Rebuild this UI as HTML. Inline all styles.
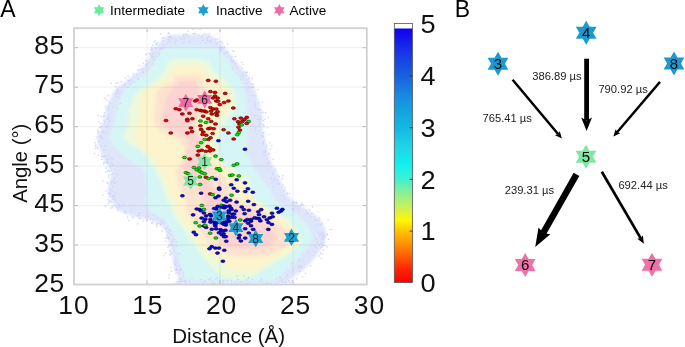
<!DOCTYPE html><html><head><meta charset="utf-8"><style>html,body{margin:0;padding:0;background:#fff;}svg{display:block;will-change:transform;}text{font-family:"Liberation Sans",sans-serif;}</style></head><body>
<svg width="685" height="347" viewBox="0 0 685 347">
<defs>
<linearGradient id="cb" x1="0" y1="1" x2="0" y2="0"><stop offset="0.000" stop-color="#ff0000"/><stop offset="0.051" stop-color="#ff2400"/><stop offset="0.108" stop-color="#ff6200"/><stop offset="0.167" stop-color="#ffa000"/><stop offset="0.214" stop-color="#ffd000"/><stop offset="0.244" stop-color="#fff800"/><stop offset="0.289" stop-color="#d0f050"/><stop offset="0.348" stop-color="#90f090"/><stop offset="0.407" stop-color="#40f0d0"/><stop offset="0.466" stop-color="#10f0f0"/><stop offset="0.525" stop-color="#20d8e8"/><stop offset="0.611" stop-color="#12b8e2"/><stop offset="0.723" stop-color="#1890e0"/><stop offset="0.815" stop-color="#1860e0"/><stop offset="0.916" stop-color="#1830e8"/><stop offset="1.000" stop-color="#1000f0"/></linearGradient>
<filter id="bl" x="-10%" y="-10%" width="120%" height="120%"><feGaussianBlur stdDeviation="1.5"/></filter>
</defs>
<text x="0.2" y="16.7" font-size="23" fill="#000">A</text>
<text x="454.7" y="16.6" font-size="23" fill="#000">B</text>
<polygon points="99.10,4.10 100.86,7.15 104.38,7.15 102.62,10.20 104.38,13.25 100.86,13.25 99.10,16.30 97.34,13.25 93.82,13.25 95.58,10.20 93.82,7.15 97.34,7.15" fill="#66ee99" />
<text x="110" y="14.5" font-size="13.5" fill="#000">Intermediate</text>
<polygon points="203.30,4.10 205.06,7.15 208.58,7.15 206.82,10.20 208.58,13.25 205.06,13.25 203.30,16.30 201.54,13.25 198.02,13.25 199.78,10.20 198.02,7.15 201.54,7.15" fill="#1a9fd0" />
<text x="216" y="14.5" font-size="13.5" fill="#000">Inactive</text>
<polygon points="279.30,4.10 281.06,7.15 284.58,7.15 282.82,10.20 284.58,13.25 281.06,13.25 279.30,16.30 277.54,13.25 274.02,13.25 275.78,10.20 274.02,7.15 277.54,7.15" fill="#f06aa8" />
<text x="289.5" y="14.5" font-size="13.5" fill="#000">Active</text>
<g filter="url(#bl)" opacity="1">
<path d="M172.0,35.0 C164.7,35.7 166.3,37.5 164.0,39.0 C161.7,40.5 160.0,42.2 158.0,44.0 C156.0,45.8 153.7,47.3 152.0,50.0 C150.3,52.7 150.0,56.7 148.0,60.0 C146.0,63.3 143.5,66.7 140.0,70.0 C136.5,73.3 131.2,76.7 127.0,80.0 C122.8,83.3 117.8,86.7 115.0,90.0 C112.2,93.3 111.5,96.7 110.0,100.0 C108.5,103.3 107.0,106.7 106.0,110.0 C105.0,113.3 105.0,116.7 104.0,120.0 C103.0,123.3 101.2,126.7 100.0,130.0 C98.8,133.3 97.0,136.7 97.0,140.0 C97.0,143.3 98.8,146.7 100.0,150.0 C101.2,153.3 102.2,156.7 104.0,160.0 C105.8,163.3 110.0,166.7 111.0,170.0 C112.0,173.3 110.5,176.7 110.0,180.0 C109.5,183.3 107.8,186.7 108.0,190.0 C108.2,193.3 109.3,196.7 111.0,200.0 C112.7,203.3 114.8,207.5 118.0,210.0 C121.2,212.5 124.7,213.3 130.0,215.0 C135.3,216.7 145.0,218.3 150.0,220.0 C155.0,221.7 157.3,223.0 160.0,225.0 C162.7,227.0 164.7,229.5 166.0,232.0 C167.3,234.5 167.2,237.0 168.0,240.0 C168.8,243.0 170.2,246.7 171.0,250.0 C171.8,253.3 172.3,256.7 173.0,260.0 C173.7,263.3 174.0,267.0 175.0,270.0 C176.0,273.0 177.5,275.7 179.0,278.0 C180.5,280.3 167.2,283.0 184.0,284.0 C200.8,285.0 262.2,285.0 280.0,284.0 C297.8,283.0 287.2,280.3 291.0,278.0 C294.8,275.7 299.3,273.0 303.0,270.0 C306.7,267.0 310.2,263.3 313.0,260.0 C315.8,256.7 318.0,253.3 320.0,250.0 C322.0,246.7 324.0,243.0 325.0,240.0 C326.0,237.0 326.3,234.5 326.0,232.0 C325.7,229.5 324.0,227.0 323.0,225.0 C322.0,223.0 321.3,221.7 320.0,220.0 C318.7,218.3 317.0,216.7 315.0,215.0 C313.0,213.3 311.8,212.5 308.0,210.0 C304.2,207.5 295.8,203.3 292.0,200.0 C288.2,196.7 287.0,193.3 285.0,190.0 C283.0,186.7 281.7,183.3 280.0,180.0 C278.3,176.7 276.7,173.3 275.0,170.0 C273.3,166.7 271.2,163.3 270.0,160.0 C268.8,156.7 268.8,153.3 268.0,150.0 C267.2,146.7 265.8,143.3 265.0,140.0 C264.2,136.7 263.3,133.3 263.0,130.0 C262.7,126.7 263.3,123.3 263.0,120.0 C262.7,116.7 261.8,113.3 261.0,110.0 C260.2,106.7 259.0,103.3 258.0,100.0 C257.0,96.7 256.3,93.3 255.0,90.0 C253.7,86.7 252.0,83.3 250.0,80.0 C248.0,76.7 245.5,73.3 243.0,70.0 C240.5,66.7 237.7,63.3 235.0,60.0 C232.3,56.7 229.3,52.7 227.0,50.0 C224.7,47.3 222.8,45.8 221.0,44.0 C219.2,42.2 218.2,40.5 216.0,39.0 C213.8,37.5 215.3,35.7 208.0,35.0 C200.7,34.3 179.3,34.3 172.0,35.0Z" fill="#dfe6fa"/>
<path d="M168.0,48.0 C159.2,49.2 162.0,53.0 160.0,55.0 C158.0,57.0 157.7,57.5 156.0,60.0 C154.3,62.5 153.7,66.3 150.0,70.0 C146.3,73.7 138.3,78.7 134.0,82.0 C129.7,85.3 126.3,87.0 124.0,90.0 C121.7,93.0 121.2,96.7 120.0,100.0 C118.8,103.3 117.8,106.7 117.0,110.0 C116.2,113.3 115.8,116.7 115.0,120.0 C114.2,123.3 112.8,126.7 112.0,130.0 C111.2,133.3 109.0,136.7 110.0,140.0 C111.0,143.3 114.7,146.7 118.0,150.0 C121.3,153.3 125.8,156.7 130.0,160.0 C134.2,163.3 140.3,166.7 143.0,170.0 C145.7,173.3 145.3,176.7 146.0,180.0 C146.7,183.3 147.2,186.7 147.0,190.0 C146.8,193.3 144.5,196.7 145.0,200.0 C145.5,203.3 146.8,206.7 150.0,210.0 C153.2,213.3 160.5,216.7 164.0,220.0 C167.5,223.3 169.0,226.7 171.0,230.0 C173.0,233.3 175.0,236.7 176.0,240.0 C177.0,243.3 176.5,246.7 177.0,250.0 C177.5,253.3 178.0,256.7 179.0,260.0 C180.0,263.3 181.2,266.7 183.0,270.0 C184.8,273.3 175.2,278.3 190.0,280.0 C204.8,281.7 256.2,281.7 272.0,280.0 C287.8,278.3 281.0,273.3 285.0,270.0 C289.0,266.7 292.7,263.3 296.0,260.0 C299.3,256.7 302.3,253.3 305.0,250.0 C307.7,246.7 311.2,243.3 312.0,240.0 C312.8,236.7 311.7,233.3 310.0,230.0 C308.3,226.7 305.3,223.3 302.0,220.0 C298.7,216.7 294.5,213.3 290.0,210.0 C285.5,206.7 278.3,203.3 275.0,200.0 C271.7,196.7 272.2,193.3 270.0,190.0 C267.8,186.7 264.5,183.3 262.0,180.0 C259.5,176.7 257.0,173.3 255.0,170.0 C253.0,166.7 251.5,163.3 250.0,160.0 C248.5,156.7 246.5,153.3 246.0,150.0 C245.5,146.7 246.7,143.3 247.0,140.0 C247.3,136.7 247.8,133.3 248.0,130.0 C248.2,126.7 248.2,123.3 248.0,120.0 C247.8,116.7 247.3,113.3 247.0,110.0 C246.7,106.7 246.5,103.3 246.0,100.0 C245.5,96.7 244.7,93.0 244.0,90.0 C243.3,87.0 243.7,85.3 242.0,82.0 C240.3,78.7 236.3,73.7 234.0,70.0 C231.7,66.3 230.0,62.5 228.0,60.0 C226.0,57.5 224.5,57.0 222.0,55.0 C219.5,53.0 222.0,49.2 213.0,48.0 C204.0,46.8 176.8,46.8 168.0,48.0Z" fill="#d6f6f5"/>
<path d="M172.0,60.0 C165.3,61.7 168.0,66.3 165.0,70.0 C162.0,73.7 158.3,78.7 154.0,82.0 C149.7,85.3 142.5,87.0 139.0,90.0 C135.5,93.0 134.7,96.7 133.0,100.0 C131.3,103.3 129.7,106.7 129.0,110.0 C128.3,113.3 129.5,116.7 129.0,120.0 C128.5,123.3 126.8,126.7 126.0,130.0 C125.2,133.3 121.7,136.7 124.0,140.0 C126.3,143.3 136.0,146.7 140.0,150.0 C144.0,153.3 145.5,156.7 148.0,160.0 C150.5,163.3 153.0,166.7 155.0,170.0 C157.0,173.3 158.7,176.7 160.0,180.0 C161.3,183.3 161.8,186.7 163.0,190.0 C164.2,193.3 165.5,196.7 167.0,200.0 C168.5,203.3 170.5,206.7 172.0,210.0 C173.5,213.3 174.0,216.7 176.0,220.0 C178.0,223.3 181.7,226.7 184.0,230.0 C186.3,233.3 187.7,236.7 190.0,240.0 C192.3,243.3 195.5,246.7 198.0,250.0 C200.5,253.3 202.2,256.7 205.0,260.0 C207.8,263.3 211.5,267.0 215.0,270.0 C218.5,273.0 220.2,276.7 226.0,278.0 C231.8,279.3 244.0,279.3 250.0,278.0 C256.0,276.7 257.0,273.0 262.0,270.0 C267.0,267.0 274.7,263.3 280.0,260.0 C285.3,256.7 290.3,253.3 294.0,250.0 C297.7,246.7 301.7,243.3 302.0,240.0 C302.3,236.7 298.2,233.3 296.0,230.0 C293.8,226.7 293.0,223.3 289.0,220.0 C285.0,216.7 277.3,213.3 272.0,210.0 C266.7,206.7 260.5,203.3 257.0,200.0 C253.5,196.7 252.2,193.3 251.0,190.0 C249.8,186.7 252.7,183.3 250.0,180.0 C247.3,176.7 239.7,173.3 235.0,170.0 C230.3,166.7 224.8,163.3 222.0,160.0 C219.2,156.7 218.7,153.3 218.0,150.0 C217.3,146.7 217.3,143.3 218.0,140.0 C218.7,136.7 220.7,133.3 222.0,130.0 C223.3,126.7 223.7,123.3 226.0,120.0 C228.3,116.7 234.3,113.3 236.0,110.0 C237.7,106.7 236.3,103.3 236.0,100.0 C235.7,96.7 235.5,93.0 234.0,90.0 C232.5,87.0 230.5,85.3 227.0,82.0 C223.5,78.7 216.7,73.7 213.0,70.0 C209.3,66.3 211.8,61.7 205.0,60.0 C198.2,58.3 178.7,58.3 172.0,60.0Z" fill="#ecf9da"/>
<path d="M174.0,66.0 C169.0,67.0 174.2,69.3 172.0,72.0 C169.8,74.7 165.3,79.0 161.0,82.0 C156.7,85.0 149.5,87.0 146.0,90.0 C142.5,93.0 141.0,96.7 140.0,100.0 C139.0,103.3 140.2,106.7 140.0,110.0 C139.8,113.3 139.7,116.7 139.0,120.0 C138.3,123.3 136.5,126.7 136.0,130.0 C135.5,133.3 134.3,136.7 136.0,140.0 C137.7,143.3 143.0,146.7 146.0,150.0 C149.0,153.3 151.7,156.7 154.0,160.0 C156.3,163.3 158.0,166.7 160.0,170.0 C162.0,173.3 164.3,176.7 166.0,180.0 C167.7,183.3 168.7,186.7 170.0,190.0 C171.3,193.3 172.7,196.7 174.0,200.0 C175.3,203.3 176.7,206.7 178.0,210.0 C179.3,213.3 179.7,216.7 182.0,220.0 C184.3,223.3 189.5,226.7 192.0,230.0 C194.5,233.3 194.8,236.7 197.0,240.0 C199.2,243.3 201.2,246.7 205.0,250.0 C208.8,253.3 215.0,256.7 220.0,260.0 C225.0,263.3 228.7,268.3 235.0,270.0 C241.3,271.7 251.8,271.7 258.0,270.0 C264.2,268.3 266.7,263.3 272.0,260.0 C277.3,256.7 285.7,253.3 290.0,250.0 C294.3,246.7 297.7,243.3 298.0,240.0 C298.3,236.7 294.2,233.3 292.0,230.0 C289.8,226.7 289.0,223.3 285.0,220.0 C281.0,216.7 273.0,213.3 268.0,210.0 C263.0,206.7 258.3,203.3 255.0,200.0 C251.7,196.7 250.5,193.3 248.0,190.0 C245.5,186.7 243.3,183.3 240.0,180.0 C236.7,176.7 231.7,173.3 228.0,170.0 C224.3,166.7 220.7,163.3 218.0,160.0 C215.3,156.7 213.0,153.3 212.0,150.0 C211.0,146.7 211.3,143.3 212.0,140.0 C212.7,136.7 215.0,133.3 216.0,130.0 C217.0,126.7 215.7,123.3 218.0,120.0 C220.3,116.7 227.8,113.3 230.0,110.0 C232.2,106.7 231.2,103.3 231.0,100.0 C230.8,96.7 230.8,93.0 229.0,90.0 C227.2,87.0 224.2,85.0 220.0,82.0 C215.8,79.0 207.0,74.7 204.0,72.0 C201.0,69.3 207.0,67.0 202.0,66.0 C197.0,65.0 179.0,65.0 174.0,66.0Z" fill="#fdf3cc"/>
<path d="M176.0,76.0 C171.8,77.0 176.0,79.7 173.0,82.0 C170.0,84.3 160.8,87.0 158.0,90.0 C155.2,93.0 156.5,96.7 156.0,100.0 C155.5,103.3 155.3,106.7 155.0,110.0 C154.7,113.3 153.2,116.7 154.0,120.0 C154.8,123.3 155.7,126.7 160.0,130.0 C164.3,133.3 175.8,136.7 180.0,140.0 C184.2,143.3 184.7,146.7 185.0,150.0 C185.3,153.3 183.3,156.7 182.0,160.0 C180.7,163.3 177.7,166.7 177.0,170.0 C176.3,173.3 177.2,176.7 178.0,180.0 C178.8,183.3 180.7,186.7 182.0,190.0 C183.3,193.3 185.2,196.7 186.0,200.0 C186.8,203.3 186.0,206.7 187.0,210.0 C188.0,213.3 189.8,216.7 192.0,220.0 C194.2,223.3 197.5,226.7 200.0,230.0 C202.5,233.3 203.3,236.7 207.0,240.0 C210.7,243.3 217.8,247.3 222.0,250.0 C226.2,252.7 225.0,255.0 232.0,256.0 C239.0,257.0 256.0,257.0 264.0,256.0 C272.0,255.0 275.3,252.7 280.0,250.0 C284.7,247.3 291.0,243.3 292.0,240.0 C293.0,236.7 289.3,233.3 286.0,230.0 C282.7,226.7 276.0,223.3 272.0,220.0 C268.0,216.7 268.2,213.3 262.0,210.0 C255.8,206.7 240.3,203.3 235.0,200.0 C229.7,196.7 231.7,193.3 230.0,190.0 C228.3,186.7 227.5,183.3 225.0,180.0 C222.5,176.7 217.8,173.3 215.0,170.0 C212.2,166.7 209.8,163.3 208.0,160.0 C206.2,156.7 204.7,153.3 204.0,150.0 C203.3,146.7 205.0,143.3 204.0,140.0 C203.0,136.7 198.7,133.3 198.0,130.0 C197.3,126.7 198.7,123.3 200.0,120.0 C201.3,116.7 204.7,113.3 206.0,110.0 C207.3,106.7 207.7,103.3 208.0,100.0 C208.3,96.7 209.2,93.0 208.0,90.0 C206.8,87.0 202.7,84.3 201.0,82.0 C199.3,79.7 202.2,77.0 198.0,76.0 C193.8,75.0 180.2,75.0 176.0,76.0Z" fill="#fde2d0"/>
<path d="M180.0,82.0 C176.3,83.3 174.3,87.0 172.0,90.0 C169.7,93.0 167.3,96.7 166.0,100.0 C164.7,103.3 164.8,106.7 164.0,110.0 C163.2,113.3 160.3,117.0 161.0,120.0 C161.7,123.0 163.5,124.7 168.0,128.0 C172.5,131.3 184.8,136.3 188.0,140.0 C191.2,143.7 187.3,146.7 187.0,150.0 C186.7,153.3 186.5,156.7 186.0,160.0 C185.5,163.3 182.5,166.7 184.0,170.0 C185.5,173.3 192.3,176.7 195.0,180.0 C197.7,183.3 198.3,186.7 200.0,190.0 C201.7,193.3 204.5,196.7 205.0,200.0 C205.5,203.3 202.7,206.7 203.0,210.0 C203.3,213.3 205.8,216.7 207.0,220.0 C208.2,223.3 207.8,226.7 210.0,230.0 C212.2,233.3 216.3,237.0 220.0,240.0 C223.7,243.0 225.0,246.7 232.0,248.0 C239.0,249.3 254.7,249.3 262.0,248.0 C269.3,246.7 274.3,243.0 276.0,240.0 C277.7,237.0 274.3,233.3 272.0,230.0 C269.7,226.7 265.7,223.3 262.0,220.0 C258.3,216.7 256.2,213.3 250.0,210.0 C243.8,206.7 230.8,203.3 225.0,200.0 C219.2,196.7 217.5,193.3 215.0,190.0 C212.5,186.7 211.7,183.3 210.0,180.0 C208.3,176.7 206.2,173.3 205.0,170.0 C203.8,166.7 204.3,163.3 203.0,160.0 C201.7,156.7 197.5,153.3 197.0,150.0 C196.5,146.7 200.8,143.7 200.0,140.0 C199.2,136.3 193.2,131.3 192.0,128.0 C190.8,124.7 192.0,123.0 193.0,120.0 C194.0,117.0 197.0,113.3 198.0,110.0 C199.0,106.7 198.8,103.3 199.0,100.0 C199.2,96.7 199.8,93.0 199.0,90.0 C198.2,87.0 197.2,83.3 194.0,82.0 C190.8,80.7 183.7,80.7 180.0,82.0Z" fill="#fcd3d0"/>
</g>
<circle cx="157.5" cy="218.3" r="0.8" fill="#d0d7f8"/>
<circle cx="137.9" cy="78.8" r="0.8" fill="#d0d7f8"/>
<circle cx="271.1" cy="283.6" r="0.8" fill="#d0d7f8"/>
<circle cx="249.0" cy="282.3" r="0.8" fill="#d0d7f8"/>
<circle cx="150.9" cy="53.2" r="0.8" fill="#d0d7f8"/>
<circle cx="124.5" cy="84.5" r="0.8" fill="#d0d7f8"/>
<circle cx="184.8" cy="281.7" r="0.8" fill="#d0d7f8"/>
<circle cx="111.0" cy="174.8" r="0.8" fill="#d0d7f8"/>
<circle cx="317.8" cy="242.2" r="0.8" fill="#d0d7f8"/>
<circle cx="176.1" cy="272.7" r="0.8" fill="#d0d7f8"/>
<circle cx="190.4" cy="42.4" r="0.8" fill="#d0d7f8"/>
<circle cx="131.0" cy="211.7" r="0.8" fill="#d0d7f8"/>
<circle cx="108.0" cy="119.2" r="0.8" fill="#d0d7f8"/>
<circle cx="259.6" cy="121.7" r="0.8" fill="#d0d7f8"/>
<circle cx="95.6" cy="146.2" r="0.8" fill="#d0d7f8"/>
<circle cx="171.1" cy="254.5" r="0.8" fill="#d0d7f8"/>
<circle cx="280.1" cy="281.4" r="0.8" fill="#d0d7f8"/>
<circle cx="107.6" cy="161.7" r="0.8" fill="#d0d7f8"/>
<circle cx="309.8" cy="209.8" r="0.8" fill="#d0d7f8"/>
<circle cx="301.2" cy="267.9" r="0.8" fill="#d0d7f8"/>
<circle cx="293.0" cy="209.6" r="0.8" fill="#d0d7f8"/>
<circle cx="105.9" cy="190.8" r="0.8" fill="#d0d7f8"/>
<circle cx="249.3" cy="78.2" r="0.8" fill="#d0d7f8"/>
<circle cx="283.1" cy="184.8" r="0.8" fill="#d0d7f8"/>
<circle cx="120.3" cy="103.3" r="0.8" fill="#d0d7f8"/>
<circle cx="180.0" cy="282.1" r="0.8" fill="#d0d7f8"/>
<circle cx="149.0" cy="54.0" r="0.8" fill="#d0d7f8"/>
<circle cx="296.8" cy="278.6" r="0.8" fill="#d0d7f8"/>
<circle cx="249.3" cy="77.9" r="0.8" fill="#d0d7f8"/>
<circle cx="303.5" cy="261.0" r="0.8" fill="#d0d7f8"/>
<circle cx="302.1" cy="276.6" r="0.8" fill="#d0d7f8"/>
<circle cx="211.8" cy="39.1" r="0.8" fill="#d0d7f8"/>
<circle cx="223.2" cy="283.8" r="0.8" fill="#d0d7f8"/>
<circle cx="294.9" cy="202.7" r="0.8" fill="#d0d7f8"/>
<circle cx="318.2" cy="232.7" r="0.8" fill="#d0d7f8"/>
<circle cx="126.7" cy="212.7" r="0.8" fill="#d0d7f8"/>
<circle cx="174.9" cy="264.4" r="0.8" fill="#d0d7f8"/>
<circle cx="213.6" cy="283.8" r="0.8" fill="#d0d7f8"/>
<circle cx="100.1" cy="136.4" r="0.8" fill="#d0d7f8"/>
<circle cx="267.2" cy="158.6" r="0.8" fill="#d0d7f8"/>
<circle cx="108.4" cy="107.7" r="0.8" fill="#d0d7f8"/>
<circle cx="246.3" cy="83.4" r="0.8" fill="#d0d7f8"/>
<circle cx="128.0" cy="76.0" r="0.8" fill="#d0d7f8"/>
<circle cx="243.1" cy="74.8" r="0.8" fill="#d0d7f8"/>
<circle cx="259.6" cy="119.6" r="0.8" fill="#d0d7f8"/>
<circle cx="177.5" cy="283.9" r="0.8" fill="#d0d7f8"/>
<circle cx="176.8" cy="241.7" r="0.8" fill="#d0d7f8"/>
<circle cx="98.9" cy="121.7" r="0.8" fill="#d0d7f8"/>
<circle cx="98.9" cy="141.6" r="0.8" fill="#d0d7f8"/>
<circle cx="231.6" cy="280.8" r="0.8" fill="#d0d7f8"/>
<circle cx="304.0" cy="267.2" r="0.8" fill="#d0d7f8"/>
<circle cx="180.5" cy="281.9" r="0.8" fill="#d0d7f8"/>
<circle cx="165.4" cy="253.3" r="0.8" fill="#d0d7f8"/>
<circle cx="303.4" cy="205.1" r="0.8" fill="#d0d7f8"/>
<circle cx="143.4" cy="63.3" r="0.8" fill="#d0d7f8"/>
<circle cx="235.5" cy="65.0" r="0.8" fill="#d0d7f8"/>
<circle cx="269.2" cy="134.6" r="0.8" fill="#d0d7f8"/>
<circle cx="175.1" cy="269.5" r="0.8" fill="#d0d7f8"/>
<circle cx="322.7" cy="239.1" r="0.8" fill="#d0d7f8"/>
<circle cx="143.3" cy="71.9" r="0.8" fill="#d0d7f8"/>
<circle cx="101.7" cy="132.4" r="0.8" fill="#d0d7f8"/>
<circle cx="166.3" cy="229.5" r="0.8" fill="#d0d7f8"/>
<circle cx="104.1" cy="124.1" r="0.8" fill="#d0d7f8"/>
<circle cx="117.5" cy="88.8" r="0.8" fill="#d0d7f8"/>
<circle cx="247.6" cy="80.1" r="0.8" fill="#d0d7f8"/>
<circle cx="315.1" cy="252.0" r="0.8" fill="#d0d7f8"/>
<circle cx="170.7" cy="234.9" r="0.8" fill="#d0d7f8"/>
<circle cx="176.5" cy="246.4" r="0.8" fill="#d0d7f8"/>
<circle cx="177.6" cy="40.8" r="0.8" fill="#d0d7f8"/>
<circle cx="117.6" cy="89.7" r="0.8" fill="#d0d7f8"/>
<circle cx="166.9" cy="231.7" r="0.8" fill="#d0d7f8"/>
<circle cx="107.1" cy="133.6" r="0.8" fill="#d0d7f8"/>
<circle cx="161.1" cy="48.6" r="0.8" fill="#d0d7f8"/>
<circle cx="104.2" cy="120.2" r="0.8" fill="#d0d7f8"/>
<circle cx="276.6" cy="278.5" r="0.8" fill="#d0d7f8"/>
<circle cx="188.7" cy="36.7" r="0.8" fill="#d0d7f8"/>
<circle cx="252.9" cy="86.7" r="0.8" fill="#d0d7f8"/>
<circle cx="170.0" cy="250.3" r="0.8" fill="#d0d7f8"/>
<circle cx="100.0" cy="135.6" r="0.8" fill="#d0d7f8"/>
<circle cx="270.5" cy="149.1" r="0.8" fill="#d0d7f8"/>
<circle cx="160.9" cy="222.5" r="0.8" fill="#d0d7f8"/>
<circle cx="183.8" cy="42.2" r="0.8" fill="#d0d7f8"/>
<circle cx="252.9" cy="95.2" r="0.8" fill="#d0d7f8"/>
<circle cx="282.9" cy="175.9" r="0.8" fill="#d0d7f8"/>
<circle cx="108.9" cy="177.1" r="0.8" fill="#d0d7f8"/>
<circle cx="154.8" cy="48.3" r="0.8" fill="#d0d7f8"/>
<circle cx="155.3" cy="47.7" r="0.8" fill="#d0d7f8"/>
<circle cx="299.1" cy="209.5" r="0.8" fill="#d0d7f8"/>
<circle cx="181.4" cy="38.7" r="0.8" fill="#d0d7f8"/>
<circle cx="206.9" cy="34.8" r="0.8" fill="#d0d7f8"/>
<circle cx="113.7" cy="178.3" r="0.8" fill="#d0d7f8"/>
<circle cx="105.1" cy="155.8" r="0.8" fill="#d0d7f8"/>
<circle cx="232.6" cy="66.6" r="0.8" fill="#d0d7f8"/>
<circle cx="262.3" cy="102.2" r="0.8" fill="#d0d7f8"/>
<circle cx="261.6" cy="134.8" r="0.8" fill="#d0d7f8"/>
<circle cx="125.4" cy="78.1" r="0.8" fill="#d0d7f8"/>
<circle cx="271.8" cy="145.9" r="0.8" fill="#d0d7f8"/>
<circle cx="275.9" cy="170.4" r="0.8" fill="#d0d7f8"/>
<circle cx="263.9" cy="142.8" r="0.8" fill="#d0d7f8"/>
<circle cx="164.0" cy="222.7" r="0.8" fill="#d0d7f8"/>
<circle cx="169.3" cy="274.9" r="0.8" fill="#d0d7f8"/>
<circle cx="183.5" cy="272.6" r="0.8" fill="#d0d7f8"/>
<circle cx="97.1" cy="137.0" r="0.8" fill="#d0d7f8"/>
<circle cx="113.0" cy="107.6" r="0.8" fill="#d0d7f8"/>
<circle cx="255.5" cy="129.6" r="0.8" fill="#d0d7f8"/>
<circle cx="109.7" cy="121.4" r="0.8" fill="#d0d7f8"/>
<circle cx="328.1" cy="219.8" r="0.8" fill="#d0d7f8"/>
<circle cx="167.3" cy="237.9" r="0.8" fill="#d0d7f8"/>
<circle cx="163.2" cy="40.7" r="0.8" fill="#d0d7f8"/>
<circle cx="194.6" cy="33.6" r="0.8" fill="#d0d7f8"/>
<circle cx="221.7" cy="42.1" r="0.8" fill="#d0d7f8"/>
<circle cx="192.1" cy="278.4" r="0.8" fill="#d0d7f8"/>
<circle cx="106.2" cy="167.9" r="0.8" fill="#d0d7f8"/>
<circle cx="110.2" cy="196.2" r="0.8" fill="#d0d7f8"/>
<circle cx="300.9" cy="266.6" r="0.8" fill="#d0d7f8"/>
<circle cx="111.8" cy="201.8" r="0.8" fill="#d0d7f8"/>
<circle cx="230.7" cy="58.4" r="0.8" fill="#d0d7f8"/>
<circle cx="165.4" cy="241.2" r="0.8" fill="#d0d7f8"/>
<circle cx="233.2" cy="62.1" r="0.8" fill="#d0d7f8"/>
<circle cx="182.1" cy="278.8" r="0.8" fill="#d0d7f8"/>
<circle cx="261.5" cy="279.4" r="0.8" fill="#d0d7f8"/>
<circle cx="100.6" cy="146.2" r="0.8" fill="#d0d7f8"/>
<circle cx="169.4" cy="37.5" r="0.8" fill="#d0d7f8"/>
<circle cx="285.1" cy="187.5" r="0.8" fill="#d0d7f8"/>
<circle cx="286.0" cy="281.6" r="0.8" fill="#d0d7f8"/>
<circle cx="290.0" cy="282.5" r="0.8" fill="#d0d7f8"/>
<circle cx="109.1" cy="193.9" r="0.8" fill="#d0d7f8"/>
<circle cx="249.2" cy="277.4" r="0.8" fill="#d0d7f8"/>
<circle cx="288.9" cy="280.9" r="0.8" fill="#d0d7f8"/>
<circle cx="319.1" cy="256.1" r="0.8" fill="#d0d7f8"/>
<circle cx="300.3" cy="207.0" r="0.8" fill="#d0d7f8"/>
<circle cx="215.6" cy="39.6" r="0.8" fill="#d0d7f8"/>
<circle cx="292.8" cy="209.5" r="0.8" fill="#d0d7f8"/>
<circle cx="108.3" cy="203.8" r="0.8" fill="#d0d7f8"/>
<circle cx="287.4" cy="275.4" r="0.8" fill="#d0d7f8"/>
<circle cx="104.6" cy="112.8" r="0.8" fill="#d0d7f8"/>
<circle cx="109.5" cy="101.7" r="0.8" fill="#d0d7f8"/>
<circle cx="110.0" cy="188.3" r="0.8" fill="#d0d7f8"/>
<circle cx="133.4" cy="73.5" r="0.8" fill="#d0d7f8"/>
<circle cx="241.8" cy="62.4" r="0.8" fill="#d0d7f8"/>
<circle cx="102.1" cy="126.0" r="0.8" fill="#d0d7f8"/>
<circle cx="101.3" cy="116.8" r="0.8" fill="#d0d7f8"/>
<circle cx="242.5" cy="75.8" r="0.8" fill="#d0d7f8"/>
<circle cx="208.7" cy="36.1" r="0.8" fill="#d0d7f8"/>
<circle cx="168.7" cy="277.7" r="0.8" fill="#d0d7f8"/>
<circle cx="258.5" cy="109.8" r="0.8" fill="#d0d7f8"/>
<circle cx="97.6" cy="130.1" r="0.8" fill="#d0d7f8"/>
<circle cx="167.2" cy="227.8" r="0.8" fill="#d0d7f8"/>
<circle cx="101.5" cy="156.5" r="0.8" fill="#d0d7f8"/>
<circle cx="163.9" cy="47.3" r="0.8" fill="#d0d7f8"/>
<circle cx="285.1" cy="282.7" r="0.8" fill="#d0d7f8"/>
<circle cx="161.6" cy="224.1" r="0.8" fill="#d0d7f8"/>
<circle cx="321.4" cy="247.0" r="0.8" fill="#d0d7f8"/>
<circle cx="183.6" cy="36.0" r="0.8" fill="#d0d7f8"/>
<circle cx="262.9" cy="143.8" r="0.8" fill="#d0d7f8"/>
<circle cx="115.3" cy="205.2" r="0.8" fill="#d0d7f8"/>
<circle cx="152.1" cy="55.2" r="0.8" fill="#d0d7f8"/>
<circle cx="105.8" cy="106.9" r="0.8" fill="#d0d7f8"/>
<circle cx="183.5" cy="277.1" r="0.8" fill="#d0d7f8"/>
<circle cx="110.0" cy="202.1" r="0.8" fill="#d0d7f8"/>
<circle cx="108.2" cy="124.2" r="0.8" fill="#d0d7f8"/>
<circle cx="296.2" cy="202.2" r="0.8" fill="#d0d7f8"/>
<circle cx="127.9" cy="87.3" r="0.8" fill="#d0d7f8"/>
<circle cx="185.5" cy="280.7" r="0.8" fill="#d0d7f8"/>
<circle cx="138.2" cy="79.1" r="0.8" fill="#d0d7f8"/>
<circle cx="263.7" cy="132.8" r="0.8" fill="#d0d7f8"/>
<circle cx="129.0" cy="81.3" r="0.8" fill="#d0d7f8"/>
<circle cx="253.2" cy="87.0" r="0.8" fill="#d0d7f8"/>
<circle cx="220.6" cy="50.8" r="0.8" fill="#d0d7f8"/>
<circle cx="118.9" cy="204.7" r="0.8" fill="#d0d7f8"/>
<circle cx="112.8" cy="187.3" r="0.8" fill="#d0d7f8"/>
<circle cx="114.8" cy="94.0" r="0.8" fill="#d0d7f8"/>
<circle cx="106.3" cy="159.1" r="0.8" fill="#d0d7f8"/>
<circle cx="146.8" cy="219.5" r="0.8" fill="#d0d7f8"/>
<circle cx="132.2" cy="208.5" r="0.8" fill="#d0d7f8"/>
<circle cx="243.3" cy="281.8" r="0.8" fill="#d0d7f8"/>
<circle cx="163.2" cy="45.1" r="0.8" fill="#d0d7f8"/>
<circle cx="115.7" cy="193.2" r="0.8" fill="#d0d7f8"/>
<circle cx="282.7" cy="281.8" r="0.8" fill="#d0d7f8"/>
<circle cx="94.5" cy="153.6" r="0.8" fill="#d0d7f8"/>
<circle cx="116.5" cy="92.6" r="0.8" fill="#d0d7f8"/>
<circle cx="265.0" cy="119.2" r="0.8" fill="#d0d7f8"/>
<circle cx="257.3" cy="108.5" r="0.8" fill="#d0d7f8"/>
<circle cx="171.6" cy="271.3" r="0.8" fill="#d0d7f8"/>
<circle cx="185.6" cy="35.8" r="0.8" fill="#d0d7f8"/>
<circle cx="169.8" cy="230.3" r="0.8" fill="#d0d7f8"/>
<circle cx="328.4" cy="239.5" r="0.8" fill="#d0d7f8"/>
<circle cx="179.9" cy="278.1" r="0.8" fill="#d0d7f8"/>
<circle cx="109.1" cy="108.3" r="0.8" fill="#d0d7f8"/>
<circle cx="136.5" cy="74.6" r="0.8" fill="#d0d7f8"/>
<circle cx="98.1" cy="131.7" r="0.8" fill="#d0d7f8"/>
<circle cx="130.4" cy="84.0" r="0.8" fill="#d0d7f8"/>
<circle cx="318.1" cy="212.0" r="0.8" fill="#d0d7f8"/>
<circle cx="124.9" cy="211.7" r="0.8" fill="#d0d7f8"/>
<circle cx="211.9" cy="280.3" r="0.8" fill="#d0d7f8"/>
<circle cx="99.8" cy="127.6" r="0.8" fill="#d0d7f8"/>
<circle cx="201.6" cy="37.1" r="0.8" fill="#d0d7f8"/>
<circle cx="193.2" cy="33.6" r="0.8" fill="#d0d7f8"/>
<circle cx="198.6" cy="35.3" r="0.8" fill="#d0d7f8"/>
<circle cx="145.4" cy="217.3" r="0.8" fill="#d0d7f8"/>
<circle cx="174.9" cy="261.1" r="0.8" fill="#d0d7f8"/>
<circle cx="247.0" cy="283.2" r="0.8" fill="#d0d7f8"/>
<circle cx="168.6" cy="36.9" r="0.8" fill="#d0d7f8"/>
<circle cx="179.7" cy="273.3" r="0.8" fill="#d0d7f8"/>
<circle cx="153.8" cy="57.6" r="0.8" fill="#d0d7f8"/>
<circle cx="111.4" cy="182.6" r="0.8" fill="#d0d7f8"/>
<circle cx="305.5" cy="273.3" r="0.8" fill="#d0d7f8"/>
<circle cx="321.5" cy="223.1" r="0.8" fill="#d0d7f8"/>
<circle cx="284.0" cy="196.3" r="0.8" fill="#d0d7f8"/>
<circle cx="156.7" cy="223.8" r="0.8" fill="#d0d7f8"/>
<circle cx="183.9" cy="39.3" r="0.8" fill="#d0d7f8"/>
<circle cx="320.2" cy="233.4" r="0.8" fill="#d0d7f8"/>
<circle cx="153.9" cy="59.6" r="0.8" fill="#d0d7f8"/>
<circle cx="327.1" cy="246.9" r="0.8" fill="#d0d7f8"/>
<circle cx="279.0" cy="183.0" r="0.8" fill="#d0d7f8"/>
<circle cx="246.7" cy="280.1" r="0.8" fill="#d0d7f8"/>
<circle cx="265.6" cy="112.9" r="0.8" fill="#d0d7f8"/>
<circle cx="298.6" cy="266.5" r="0.8" fill="#d0d7f8"/>
<circle cx="301.4" cy="204.1" r="0.8" fill="#d0d7f8"/>
<circle cx="113.3" cy="180.5" r="0.8" fill="#d0d7f8"/>
<circle cx="171.5" cy="245.0" r="0.8" fill="#d0d7f8"/>
<circle cx="117.9" cy="92.3" r="0.8" fill="#d0d7f8"/>
<circle cx="325.0" cy="245.5" r="0.8" fill="#d0d7f8"/>
<circle cx="322.6" cy="245.7" r="0.8" fill="#d0d7f8"/>
<circle cx="169.0" cy="33.3" r="0.8" fill="#d0d7f8"/>
<circle cx="262.6" cy="136.2" r="0.8" fill="#d0d7f8"/>
<circle cx="315.7" cy="225.2" r="0.8" fill="#d0d7f8"/>
<circle cx="113.0" cy="195.4" r="0.8" fill="#d0d7f8"/>
<circle cx="134.0" cy="76.0" r="0.8" fill="#d0d7f8"/>
<circle cx="111.2" cy="158.2" r="0.8" fill="#d0d7f8"/>
<circle cx="274.1" cy="180.3" r="0.8" fill="#d0d7f8"/>
<circle cx="174.3" cy="262.0" r="0.8" fill="#d0d7f8"/>
<circle cx="322.1" cy="253.8" r="0.8" fill="#d0d7f8"/>
<circle cx="322.9" cy="233.6" r="0.8" fill="#d0d7f8"/>
<circle cx="112.3" cy="197.0" r="0.8" fill="#d0d7f8"/>
<circle cx="277.7" cy="175.5" r="0.8" fill="#d0d7f8"/>
<circle cx="166.9" cy="43.9" r="0.8" fill="#d0d7f8"/>
<circle cx="142.2" cy="69.0" r="0.8" fill="#d0d7f8"/>
<circle cx="298.1" cy="211.7" r="0.8" fill="#d0d7f8"/>
<circle cx="311.9" cy="213.2" r="0.8" fill="#d0d7f8"/>
<circle cx="215.9" cy="279.2" r="0.8" fill="#d0d7f8"/>
<circle cx="217.2" cy="277.9" r="0.8" fill="#d0d7f8"/>
<circle cx="109.0" cy="155.9" r="0.8" fill="#d0d7f8"/>
<circle cx="189.0" cy="36.6" r="0.8" fill="#d0d7f8"/>
<circle cx="211.5" cy="283.4" r="0.8" fill="#d0d7f8"/>
<circle cx="257.8" cy="119.4" r="0.8" fill="#d0d7f8"/>
<circle cx="116.4" cy="207.3" r="0.8" fill="#d0d7f8"/>
<circle cx="110.9" cy="163.0" r="0.8" fill="#d0d7f8"/>
<circle cx="300.0" cy="271.4" r="0.8" fill="#d0d7f8"/>
<circle cx="98.1" cy="115.4" r="0.8" fill="#d0d7f8"/>
<circle cx="106.4" cy="109.6" r="0.8" fill="#d0d7f8"/>
<circle cx="268.3" cy="117.7" r="0.8" fill="#d0d7f8"/>
<circle cx="293.3" cy="202.4" r="0.8" fill="#d0d7f8"/>
<circle cx="114.4" cy="181.8" r="0.8" fill="#d0d7f8"/>
<circle cx="155.9" cy="44.7" r="0.8" fill="#d0d7f8"/>
<circle cx="168.8" cy="33.2" r="0.8" fill="#d0d7f8"/>
<circle cx="139.7" cy="215.7" r="0.8" fill="#d0d7f8"/>
<circle cx="104.7" cy="115.7" r="0.8" fill="#d0d7f8"/>
<circle cx="255.3" cy="104.6" r="0.8" fill="#d0d7f8"/>
<circle cx="170.8" cy="36.7" r="0.8" fill="#d0d7f8"/>
<circle cx="105.2" cy="98.4" r="0.8" fill="#d0d7f8"/>
<circle cx="224.5" cy="47.1" r="0.8" fill="#d0d7f8"/>
<circle cx="128.7" cy="220.5" r="0.8" fill="#d0d7f8"/>
<circle cx="163.8" cy="255.8" r="0.8" fill="#d0d7f8"/>
<circle cx="298.9" cy="261.3" r="0.8" fill="#d0d7f8"/>
<circle cx="168.8" cy="245.9" r="0.8" fill="#d0d7f8"/>
<circle cx="149.8" cy="62.2" r="0.8" fill="#d0d7f8"/>
<circle cx="118.7" cy="90.3" r="0.8" fill="#d0d7f8"/>
<circle cx="220.0" cy="41.6" r="0.8" fill="#d0d7f8"/>
<circle cx="109.9" cy="194.3" r="0.8" fill="#d0d7f8"/>
<circle cx="105.9" cy="150.1" r="0.8" fill="#d0d7f8"/>
<circle cx="180.2" cy="253.6" r="0.8" fill="#d0d7f8"/>
<circle cx="263.4" cy="124.9" r="0.8" fill="#d0d7f8"/>
<circle cx="316.4" cy="238.9" r="0.8" fill="#d0d7f8"/>
<circle cx="280.1" cy="195.1" r="0.8" fill="#d0d7f8"/>
<circle cx="205.2" cy="281.4" r="0.8" fill="#d0d7f8"/>
<circle cx="274.7" cy="168.9" r="0.8" fill="#d0d7f8"/>
<circle cx="146.6" cy="60.9" r="0.8" fill="#d0d7f8"/>
<circle cx="221.2" cy="50.0" r="0.8" fill="#d0d7f8"/>
<circle cx="170.4" cy="231.3" r="0.8" fill="#d0d7f8"/>
<circle cx="136.4" cy="215.8" r="0.8" fill="#d0d7f8"/>
<circle cx="105.3" cy="206.0" r="0.8" fill="#d0d7f8"/>
<circle cx="322.3" cy="224.0" r="0.8" fill="#d0d7f8"/>
<circle cx="180.6" cy="269.0" r="0.8" fill="#d0d7f8"/>
<circle cx="100.6" cy="136.0" r="0.8" fill="#d0d7f8"/>
<circle cx="231.8" cy="61.5" r="0.8" fill="#d0d7f8"/>
<circle cx="241.0" cy="281.8" r="0.8" fill="#d0d7f8"/>
<circle cx="175.1" cy="43.6" r="0.8" fill="#d0d7f8"/>
<circle cx="204.5" cy="281.6" r="0.8" fill="#d0d7f8"/>
<circle cx="125.3" cy="85.4" r="0.8" fill="#d0d7f8"/>
<circle cx="168.9" cy="229.8" r="0.8" fill="#d0d7f8"/>
<circle cx="114.1" cy="199.7" r="0.8" fill="#d0d7f8"/>
<circle cx="289.6" cy="272.0" r="0.8" fill="#d0d7f8"/>
<circle cx="173.9" cy="283.9" r="0.8" fill="#d0d7f8"/>
<circle cx="165.0" cy="228.6" r="0.8" fill="#d0d7f8"/>
<circle cx="140.8" cy="69.2" r="0.8" fill="#d0d7f8"/>
<circle cx="117.4" cy="108.6" r="0.8" fill="#d0d7f8"/>
<circle cx="107.5" cy="170.5" r="0.8" fill="#d0d7f8"/>
<circle cx="118.1" cy="208.1" r="0.8" fill="#d0d7f8"/>
<circle cx="201.3" cy="279.6" r="0.8" fill="#d0d7f8"/>
<circle cx="207.3" cy="40.5" r="0.8" fill="#d0d7f8"/>
<circle cx="155.4" cy="40.8" r="0.8" fill="#d0d7f8"/>
<circle cx="152.1" cy="49.3" r="0.8" fill="#d0d7f8"/>
<circle cx="300.7" cy="265.5" r="0.8" fill="#d0d7f8"/>
<circle cx="223.1" cy="48.1" r="0.8" fill="#d0d7f8"/>
<circle cx="255.1" cy="115.9" r="0.8" fill="#d0d7f8"/>
<circle cx="103.1" cy="195.3" r="0.8" fill="#d0d7f8"/>
<circle cx="116.5" cy="94.6" r="0.8" fill="#d0d7f8"/>
<circle cx="305.4" cy="214.2" r="0.8" fill="#d0d7f8"/>
<circle cx="215.6" cy="39.5" r="0.8" fill="#d0d7f8"/>
<circle cx="273.3" cy="159.4" r="0.8" fill="#d0d7f8"/>
<circle cx="266.1" cy="147.7" r="0.8" fill="#d0d7f8"/>
<circle cx="115.2" cy="183.2" r="0.8" fill="#d0d7f8"/>
<circle cx="140.6" cy="218.5" r="0.8" fill="#d0d7f8"/>
<circle cx="108.7" cy="106.7" r="0.8" fill="#d0d7f8"/>
<circle cx="293.7" cy="208.9" r="0.8" fill="#d0d7f8"/>
<circle cx="116.9" cy="96.9" r="0.8" fill="#d0d7f8"/>
<circle cx="299.3" cy="268.7" r="0.8" fill="#d0d7f8"/>
<circle cx="176.3" cy="265.9" r="0.8" fill="#d0d7f8"/>
<circle cx="169.4" cy="42.3" r="0.8" fill="#d0d7f8"/>
<circle cx="137.5" cy="223.9" r="0.8" fill="#d0d7f8"/>
<circle cx="322.4" cy="232.4" r="0.8" fill="#d0d7f8"/>
<circle cx="245.9" cy="72.3" r="0.8" fill="#d0d7f8"/>
<circle cx="110.2" cy="192.5" r="0.8" fill="#d0d7f8"/>
<circle cx="202.5" cy="35.4" r="0.8" fill="#d0d7f8"/>
<circle cx="157.3" cy="42.9" r="0.8" fill="#d0d7f8"/>
<circle cx="109.7" cy="201.0" r="0.8" fill="#d0d7f8"/>
<circle cx="314.7" cy="219.6" r="0.8" fill="#d0d7f8"/>
<circle cx="152.0" cy="50.9" r="0.8" fill="#d0d7f8"/>
<circle cx="161.7" cy="230.9" r="0.8" fill="#d0d7f8"/>
<circle cx="106.5" cy="156.2" r="0.8" fill="#d0d7f8"/>
<circle cx="262.9" cy="136.6" r="0.8" fill="#d0d7f8"/>
<circle cx="103.8" cy="164.1" r="0.8" fill="#d0d7f8"/>
<circle cx="195.4" cy="33.7" r="0.8" fill="#d0d7f8"/>
<circle cx="117.1" cy="181.9" r="0.8" fill="#d0d7f8"/>
<circle cx="113.0" cy="173.6" r="0.8" fill="#d0d7f8"/>
<circle cx="209.4" cy="33.8" r="0.8" fill="#d0d7f8"/>
<circle cx="240.0" cy="282.3" r="0.8" fill="#d0d7f8"/>
<circle cx="179.5" cy="279.8" r="0.8" fill="#d0d7f8"/>
<circle cx="315.9" cy="220.3" r="0.8" fill="#d0d7f8"/>
<circle cx="176.0" cy="270.1" r="0.8" fill="#d0d7f8"/>
<circle cx="112.3" cy="165.4" r="0.8" fill="#d0d7f8"/>
<circle cx="146.9" cy="63.8" r="0.8" fill="#d0d7f8"/>
<circle cx="138.9" cy="65.2" r="0.8" fill="#d0d7f8"/>
<circle cx="240.4" cy="76.6" r="0.8" fill="#d0d7f8"/>
<circle cx="272.9" cy="186.8" r="0.8" fill="#d0d7f8"/>
<circle cx="160.0" cy="223.3" r="0.8" fill="#d0d7f8"/>
<circle cx="105.7" cy="146.2" r="0.8" fill="#d0d7f8"/>
<circle cx="152.0" cy="48.8" r="0.8" fill="#d0d7f8"/>
<circle cx="319.4" cy="218.0" r="0.8" fill="#d0d7f8"/>
<circle cx="163.0" cy="222.6" r="0.8" fill="#d0d7f8"/>
<circle cx="101.6" cy="137.7" r="0.8" fill="#d0d7f8"/>
<circle cx="169.2" cy="238.4" r="0.8" fill="#d0d7f8"/>
<circle cx="206.0" cy="42.6" r="0.8" fill="#d0d7f8"/>
<circle cx="112.7" cy="158.9" r="0.8" fill="#d0d7f8"/>
<circle cx="172.8" cy="241.3" r="0.8" fill="#d0d7f8"/>
<circle cx="145.6" cy="60.5" r="0.8" fill="#d0d7f8"/>
<circle cx="226.4" cy="52.5" r="0.8" fill="#d0d7f8"/>
<circle cx="98.4" cy="155.3" r="0.8" fill="#d0d7f8"/>
<circle cx="158.5" cy="52.9" r="0.8" fill="#d0d7f8"/>
<circle cx="146.2" cy="54.3" r="0.8" fill="#d0d7f8"/>
<circle cx="159.2" cy="54.7" r="0.8" fill="#d0d7f8"/>
<circle cx="115.0" cy="198.1" r="0.8" fill="#d0d7f8"/>
<circle cx="272.8" cy="174.5" r="0.8" fill="#d0d7f8"/>
<circle cx="117.6" cy="210.1" r="0.8" fill="#d0d7f8"/>
<circle cx="204.8" cy="34.3" r="0.8" fill="#d0d7f8"/>
<circle cx="287.4" cy="193.8" r="0.8" fill="#d0d7f8"/>
<circle cx="150.8" cy="218.7" r="0.8" fill="#d0d7f8"/>
<circle cx="271.8" cy="167.8" r="0.8" fill="#d0d7f8"/>
<circle cx="232.5" cy="50.5" r="0.8" fill="#d0d7f8"/>
<circle cx="153.8" cy="41.6" r="0.8" fill="#d0d7f8"/>
<circle cx="102.7" cy="181.1" r="0.8" fill="#d0d7f8"/>
<circle cx="207.6" cy="37.8" r="0.8" fill="#d0d7f8"/>
<circle cx="175.3" cy="264.9" r="0.8" fill="#d0d7f8"/>
<circle cx="238.2" cy="279.6" r="0.8" fill="#d0d7f8"/>
<circle cx="220.6" cy="49.2" r="0.8" fill="#d0d7f8"/>
<circle cx="273.1" cy="182.0" r="0.8" fill="#d0d7f8"/>
<circle cx="260.4" cy="116.9" r="0.8" fill="#d0d7f8"/>
<circle cx="156.6" cy="226.4" r="0.8" fill="#d0d7f8"/>
<circle cx="151.7" cy="223.1" r="0.8" fill="#d0d7f8"/>
<circle cx="134.1" cy="82.2" r="0.8" fill="#d0d7f8"/>
<circle cx="104.1" cy="156.7" r="0.8" fill="#d0d7f8"/>
<circle cx="138.6" cy="69.8" r="0.8" fill="#d0d7f8"/>
<circle cx="150.5" cy="49.9" r="0.8" fill="#d0d7f8"/>
<circle cx="187.3" cy="35.0" r="0.8" fill="#d0d7f8"/>
<circle cx="242.0" cy="75.6" r="0.8" fill="#d0d7f8"/>
<circle cx="128.2" cy="80.7" r="0.8" fill="#d0d7f8"/>
<circle cx="117.4" cy="82.5" r="0.8" fill="#d0d7f8"/>
<circle cx="202.1" cy="283.0" r="0.8" fill="#d0d7f8"/>
<circle cx="106.8" cy="182.4" r="0.8" fill="#d0d7f8"/>
<circle cx="310.9" cy="216.6" r="0.8" fill="#d0d7f8"/>
<circle cx="272.2" cy="174.2" r="0.8" fill="#d0d7f8"/>
<circle cx="107.0" cy="100.2" r="0.8" fill="#d0d7f8"/>
<circle cx="258.6" cy="103.0" r="0.8" fill="#d0d7f8"/>
<circle cx="177.7" cy="253.7" r="0.8" fill="#d0d7f8"/>
<circle cx="277.5" cy="180.1" r="0.8" fill="#d0d7f8"/>
<circle cx="112.1" cy="191.1" r="0.8" fill="#d0d7f8"/>
<circle cx="106.5" cy="127.0" r="0.8" fill="#d0d7f8"/>
<circle cx="156.5" cy="224.4" r="0.8" fill="#d0d7f8"/>
<circle cx="181.0" cy="270.1" r="0.8" fill="#d0d7f8"/>
<circle cx="111.1" cy="181.2" r="0.8" fill="#d0d7f8"/>
<circle cx="267.4" cy="127.7" r="0.8" fill="#d0d7f8"/>
<circle cx="111.4" cy="83.5" r="0.8" fill="#d0d7f8"/>
<circle cx="223.7" cy="280.5" r="0.8" fill="#d0d7f8"/>
<circle cx="233.9" cy="51.5" r="0.8" fill="#d0d7f8"/>
<circle cx="151.0" cy="55.5" r="0.8" fill="#d0d7f8"/>
<circle cx="103.6" cy="150.6" r="0.8" fill="#d0d7f8"/>
<circle cx="193.0" cy="29.2" r="0.8" fill="#d0d7f8"/>
<circle cx="169.5" cy="254.7" r="0.8" fill="#d0d7f8"/>
<circle cx="253.4" cy="84.0" r="0.8" fill="#d0d7f8"/>
<circle cx="265.9" cy="151.3" r="0.8" fill="#d0d7f8"/>
<circle cx="210.8" cy="40.7" r="0.8" fill="#d0d7f8"/>
<circle cx="316.4" cy="247.6" r="0.8" fill="#d0d7f8"/>
<circle cx="111.3" cy="170.4" r="0.8" fill="#d0d7f8"/>
<circle cx="107.5" cy="160.1" r="0.8" fill="#d0d7f8"/>
<circle cx="108.1" cy="199.7" r="0.8" fill="#d0d7f8"/>
<circle cx="103.8" cy="162.3" r="0.8" fill="#d0d7f8"/>
<circle cx="163.9" cy="38.0" r="0.8" fill="#d0d7f8"/>
<circle cx="105.0" cy="146.2" r="0.8" fill="#d0d7f8"/>
<circle cx="147.9" cy="216.0" r="0.8" fill="#d0d7f8"/>
<circle cx="280.0" cy="276.7" r="0.8" fill="#d0d7f8"/>
<circle cx="143.1" cy="72.9" r="0.8" fill="#d0d7f8"/>
<circle cx="281.9" cy="280.3" r="0.8" fill="#d0d7f8"/>
<circle cx="322.8" cy="235.7" r="0.8" fill="#d0d7f8"/>
<circle cx="297.8" cy="207.1" r="0.8" fill="#d0d7f8"/>
<circle cx="177.1" cy="281.6" r="0.8" fill="#d0d7f8"/>
<circle cx="207.8" cy="39.4" r="0.8" fill="#d0d7f8"/>
<circle cx="146.8" cy="220.6" r="0.8" fill="#d0d7f8"/>
<circle cx="178.5" cy="283.2" r="0.8" fill="#d0d7f8"/>
<circle cx="248.9" cy="87.9" r="0.8" fill="#d0d7f8"/>
<circle cx="103.9" cy="156.6" r="0.8" fill="#d0d7f8"/>
<circle cx="281.5" cy="186.8" r="0.8" fill="#d0d7f8"/>
<circle cx="235.2" cy="63.2" r="0.8" fill="#d0d7f8"/>
<circle cx="184.2" cy="281.0" r="0.8" fill="#d0d7f8"/>
<circle cx="246.9" cy="72.5" r="0.8" fill="#d0d7f8"/>
<circle cx="213.0" cy="282.9" r="0.8" fill="#d0d7f8"/>
<circle cx="283.1" cy="281.8" r="0.8" fill="#d0d7f8"/>
<circle cx="323.4" cy="234.8" r="0.8" fill="#d0d7f8"/>
<circle cx="320.4" cy="248.0" r="0.8" fill="#d0d7f8"/>
<circle cx="171.3" cy="253.3" r="0.8" fill="#d0d7f8"/>
<circle cx="125.8" cy="212.2" r="0.8" fill="#d0d7f8"/>
<circle cx="259.7" cy="281.6" r="0.8" fill="#d0d7f8"/>
<circle cx="235.9" cy="284.0" r="0.8" fill="#d0d7f8"/>
<circle cx="259.4" cy="130.8" r="0.8" fill="#d0d7f8"/>
<circle cx="108.7" cy="105.6" r="0.8" fill="#d0d7f8"/>
<circle cx="211.1" cy="41.7" r="0.8" fill="#d0d7f8"/>
<circle cx="146.0" cy="64.6" r="0.8" fill="#d0d7f8"/>
<circle cx="227.4" cy="44.4" r="0.8" fill="#d0d7f8"/>
<circle cx="314.9" cy="246.4" r="0.8" fill="#d0d7f8"/>
<circle cx="257.6" cy="116.1" r="0.8" fill="#d0d7f8"/>
<circle cx="117.7" cy="174.5" r="0.8" fill="#d0d7f8"/>
<circle cx="183.3" cy="275.2" r="0.8" fill="#d0d7f8"/>
<circle cx="95.3" cy="148.2" r="0.8" fill="#d0d7f8"/>
<circle cx="109.4" cy="171.3" r="0.8" fill="#d0d7f8"/>
<circle cx="177.4" cy="262.3" r="0.8" fill="#d0d7f8"/>
<circle cx="110.3" cy="103.3" r="0.8" fill="#d0d7f8"/>
<circle cx="233.4" cy="69.0" r="0.8" fill="#d0d7f8"/>
<circle cx="146.2" cy="54.6" r="0.8" fill="#d0d7f8"/>
<circle cx="149.8" cy="53.4" r="0.8" fill="#d0d7f8"/>
<circle cx="254.9" cy="106.4" r="0.8" fill="#d0d7f8"/>
<circle cx="281.8" cy="279.2" r="0.8" fill="#d0d7f8"/>
<circle cx="322.6" cy="244.9" r="0.8" fill="#d0d7f8"/>
<circle cx="298.2" cy="267.6" r="0.8" fill="#d0d7f8"/>
<circle cx="156.4" cy="43.6" r="0.8" fill="#d0d7f8"/>
<circle cx="107.9" cy="183.6" r="0.8" fill="#d0d7f8"/>
<circle cx="268.6" cy="162.3" r="0.8" fill="#d0d7f8"/>
<circle cx="95.8" cy="145.1" r="0.8" fill="#d0d7f8"/>
<circle cx="222.5" cy="281.8" r="0.8" fill="#d0d7f8"/>
<circle cx="189.5" cy="281.6" r="0.8" fill="#d0d7f8"/>
<circle cx="121.3" cy="81.5" r="0.8" fill="#d0d7f8"/>
<circle cx="152.7" cy="56.4" r="0.8" fill="#d0d7f8"/>
<circle cx="319.4" cy="236.6" r="0.8" fill="#d0d7f8"/>
<circle cx="264.1" cy="151.8" r="0.8" fill="#d0d7f8"/>
<circle cx="252.2" cy="279.4" r="0.8" fill="#d0d7f8"/>
<circle cx="175.5" cy="258.0" r="0.8" fill="#d0d7f8"/>
<circle cx="209.0" cy="41.0" r="0.8" fill="#d0d7f8"/>
<circle cx="175.3" cy="41.4" r="0.8" fill="#d0d7f8"/>
<circle cx="279.4" cy="184.3" r="0.8" fill="#d0d7f8"/>
<circle cx="186.2" cy="34.0" r="0.8" fill="#d0d7f8"/>
<circle cx="237.0" cy="275.9" r="0.8" fill="#d0d7f8"/>
<circle cx="98.1" cy="133.3" r="0.8" fill="#d0d7f8"/>
<circle cx="263.3" cy="143.6" r="0.8" fill="#d0d7f8"/>
<circle cx="168.6" cy="238.1" r="0.8" fill="#d0d7f8"/>
<circle cx="268.4" cy="169.2" r="0.8" fill="#d0d7f8"/>
<circle cx="123.5" cy="204.6" r="0.8" fill="#d0d7f8"/>
<circle cx="259.1" cy="122.0" r="0.8" fill="#d0d7f8"/>
<circle cx="224.2" cy="53.9" r="0.8" fill="#d0d7f8"/>
<circle cx="108.2" cy="163.7" r="0.8" fill="#d0d7f8"/>
<circle cx="154.1" cy="215.6" r="0.8" fill="#d0d7f8"/>
<circle cx="153.0" cy="53.4" r="0.8" fill="#d0d7f8"/>
<circle cx="216.4" cy="43.9" r="0.8" fill="#d0d7f8"/>
<circle cx="307.9" cy="213.7" r="0.8" fill="#d0d7f8"/>
<circle cx="266.4" cy="145.5" r="0.8" fill="#d0d7f8"/>
<circle cx="108.2" cy="95.8" r="0.8" fill="#d0d7f8"/>
<circle cx="170.0" cy="244.7" r="0.8" fill="#d0d7f8"/>
<circle cx="252.2" cy="78.4" r="0.8" fill="#d0d7f8"/>
<circle cx="245.8" cy="73.7" r="0.8" fill="#d0d7f8"/>
<circle cx="119.8" cy="94.1" r="0.8" fill="#d0d7f8"/>
<circle cx="176.5" cy="270.5" r="0.8" fill="#d0d7f8"/>
<circle cx="263.5" cy="136.0" r="0.8" fill="#d0d7f8"/>
<circle cx="291.3" cy="263.9" r="0.8" fill="#d0d7f8"/>
<circle cx="171.4" cy="244.7" r="0.8" fill="#d0d7f8"/>
<circle cx="95.2" cy="142.8" r="0.8" fill="#d0d7f8"/>
<circle cx="270.9" cy="178.6" r="0.8" fill="#d0d7f8"/>
<circle cx="113.1" cy="196.5" r="0.8" fill="#d0d7f8"/>
<circle cx="320.0" cy="235.3" r="0.8" fill="#d0d7f8"/>
<circle cx="318.4" cy="219.7" r="0.8" fill="#d0d7f8"/>
<circle cx="148.1" cy="216.9" r="0.8" fill="#d0d7f8"/>
<circle cx="104.6" cy="122.7" r="0.8" fill="#d0d7f8"/>
<circle cx="320.4" cy="253.6" r="0.8" fill="#d0d7f8"/>
<circle cx="237.1" cy="67.7" r="0.8" fill="#d0d7f8"/>
<circle cx="108.4" cy="109.8" r="0.8" fill="#d0d7f8"/>
<circle cx="162.2" cy="48.9" r="0.8" fill="#d0d7f8"/>
<circle cx="170.1" cy="35.7" r="0.8" fill="#d0d7f8"/>
<circle cx="171.5" cy="242.1" r="0.8" fill="#d0d7f8"/>
<circle cx="108.6" cy="175.1" r="0.8" fill="#d0d7f8"/>
<circle cx="104.7" cy="162.4" r="0.8" fill="#d0d7f8"/>
<circle cx="321.9" cy="247.3" r="0.8" fill="#d0d7f8"/>
<circle cx="217.5" cy="42.8" r="0.8" fill="#d0d7f8"/>
<circle cx="110.4" cy="190.0" r="0.8" fill="#d0d7f8"/>
<circle cx="323.1" cy="236.4" r="0.8" fill="#d0d7f8"/>
<circle cx="248.7" cy="82.1" r="0.8" fill="#d0d7f8"/>
<circle cx="112.2" cy="206.0" r="0.8" fill="#d0d7f8"/>
<circle cx="163.6" cy="37.8" r="0.8" fill="#d0d7f8"/>
<circle cx="165.6" cy="238.2" r="0.8" fill="#d0d7f8"/>
<circle cx="331.6" cy="229.6" r="0.8" fill="#d0d7f8"/>
<circle cx="277.2" cy="184.1" r="0.8" fill="#d0d7f8"/>
<circle cx="110.9" cy="193.4" r="0.8" fill="#d0d7f8"/>
<circle cx="267.7" cy="283.5" r="0.8" fill="#d0d7f8"/>
<circle cx="180.0" cy="280.0" r="0.8" fill="#d0d7f8"/>
<circle cx="265.4" cy="150.6" r="0.8" fill="#d0d7f8"/>
<circle cx="160.4" cy="34.0" r="0.8" fill="#d0d7f8"/>
<circle cx="103.7" cy="116.7" r="0.8" fill="#d0d7f8"/>
<circle cx="101.9" cy="159.5" r="0.8" fill="#d0d7f8"/>
<circle cx="327.2" cy="234.4" r="0.8" fill="#d0d7f8"/>
<circle cx="260.2" cy="123.7" r="0.8" fill="#d0d7f8"/>
<circle cx="139.0" cy="213.0" r="0.8" fill="#d0d7f8"/>
<circle cx="152.6" cy="64.1" r="0.8" fill="#d0d7f8"/>
<circle cx="289.6" cy="193.5" r="0.8" fill="#d0d7f8"/>
<circle cx="169.3" cy="40.2" r="0.8" fill="#d0d7f8"/>
<circle cx="279.0" cy="176.2" r="0.8" fill="#d0d7f8"/>
<circle cx="116.5" cy="91.6" r="0.8" fill="#d0d7f8"/>
<circle cx="114.0" cy="182.7" r="0.8" fill="#d0d7f8"/>
<circle cx="273.5" cy="172.1" r="0.8" fill="#d0d7f8"/>
<circle cx="297.1" cy="208.8" r="0.8" fill="#d0d7f8"/>
<circle cx="112.1" cy="207.8" r="0.8" fill="#d0d7f8"/>
<circle cx="261.3" cy="280.7" r="0.8" fill="#d0d7f8"/>
<circle cx="110.9" cy="208.0" r="0.8" fill="#d0d7f8"/>
<circle cx="106.0" cy="171.9" r="0.8" fill="#d0d7f8"/>
<circle cx="243.5" cy="77.6" r="0.8" fill="#d0d7f8"/>
<circle cx="110.6" cy="185.0" r="0.8" fill="#d0d7f8"/>
<circle cx="271.5" cy="178.1" r="0.8" fill="#d0d7f8"/>
<circle cx="157.4" cy="223.7" r="0.8" fill="#d0d7f8"/>
<circle cx="246.6" cy="75.4" r="0.8" fill="#d0d7f8"/>
<circle cx="230.8" cy="60.7" r="0.8" fill="#d0d7f8"/>
<circle cx="324.3" cy="242.6" r="0.8" fill="#d0d7f8"/>
<circle cx="188.3" cy="31.3" r="0.8" fill="#d0d7f8"/>
<circle cx="219.6" cy="280.4" r="0.8" fill="#d0d7f8"/>
<circle cx="258.0" cy="89.5" r="0.8" fill="#d0d7f8"/>
<circle cx="194.6" cy="283.6" r="0.8" fill="#d0d7f8"/>
<circle cx="143.1" cy="221.1" r="0.8" fill="#d0d7f8"/>
<circle cx="109.5" cy="166.3" r="0.8" fill="#d0d7f8"/>
<circle cx="231.8" cy="56.8" r="0.8" fill="#d0d7f8"/>
<circle cx="107.4" cy="119.3" r="0.8" fill="#d0d7f8"/>
<circle cx="221.7" cy="47.1" r="0.8" fill="#d0d7f8"/>
<circle cx="168.6" cy="233.1" r="0.8" fill="#d0d7f8"/>
<circle cx="151.7" cy="56.9" r="0.8" fill="#d0d7f8"/>
<circle cx="302.0" cy="204.2" r="0.8" fill="#d0d7f8"/>
<circle cx="282.2" cy="178.9" r="0.8" fill="#d0d7f8"/>
<circle cx="137.9" cy="70.2" r="0.8" fill="#d0d7f8"/>
<circle cx="263.3" cy="120.5" r="0.8" fill="#d0d7f8"/>
<circle cx="260.4" cy="119.3" r="0.8" fill="#d0d7f8"/>
<circle cx="251.3" cy="83.7" r="0.8" fill="#d0d7f8"/>
<circle cx="228.1" cy="56.1" r="0.8" fill="#d0d7f8"/>
<circle cx="106.8" cy="162.3" r="0.8" fill="#d0d7f8"/>
<circle cx="119.4" cy="97.9" r="0.8" fill="#d0d7f8"/>
<circle cx="260.1" cy="124.7" r="0.8" fill="#d0d7f8"/>
<circle cx="321.5" cy="238.9" r="0.8" fill="#d0d7f8"/>
<circle cx="127.6" cy="217.2" r="0.8" fill="#d0d7f8"/>
<circle cx="121.9" cy="91.9" r="0.8" fill="#d0d7f8"/>
<circle cx="109.4" cy="159.4" r="0.8" fill="#d0d7f8"/>
<circle cx="152.5" cy="220.0" r="0.8" fill="#d0d7f8"/>
<circle cx="112.6" cy="199.1" r="0.8" fill="#d0d7f8"/>
<circle cx="125.1" cy="212.6" r="0.8" fill="#d0d7f8"/>
<circle cx="152.8" cy="222.8" r="0.8" fill="#d0d7f8"/>
<circle cx="200.1" cy="29.5" r="0.8" fill="#d0d7f8"/>
<circle cx="318.3" cy="250.2" r="0.8" fill="#d0d7f8"/>
<circle cx="151.7" cy="47.7" r="0.8" fill="#d0d7f8"/>
<circle cx="265.4" cy="154.9" r="0.8" fill="#d0d7f8"/>
<circle cx="167.4" cy="235.0" r="0.8" fill="#d0d7f8"/>
<circle cx="108.5" cy="170.6" r="0.8" fill="#d0d7f8"/>
<circle cx="247.6" cy="90.0" r="0.8" fill="#d0d7f8"/>
<circle cx="102.1" cy="138.5" r="0.8" fill="#d0d7f8"/>
<circle cx="171.4" cy="38.3" r="0.8" fill="#d0d7f8"/>
<circle cx="189.2" cy="41.5" r="0.8" fill="#d0d7f8"/>
<circle cx="168.2" cy="33.1" r="0.8" fill="#d0d7f8"/>
<circle cx="262.5" cy="136.9" r="0.8" fill="#d0d7f8"/>
<circle cx="97.7" cy="148.6" r="0.8" fill="#d0d7f8"/>
<circle cx="259.4" cy="110.1" r="0.8" fill="#d0d7f8"/>
<circle cx="115.9" cy="200.6" r="0.8" fill="#d0d7f8"/>
<circle cx="110.7" cy="168.1" r="0.8" fill="#d0d7f8"/>
<circle cx="296.5" cy="203.1" r="0.8" fill="#d0d7f8"/>
<circle cx="324.1" cy="237.9" r="0.8" fill="#d0d7f8"/>
<circle cx="131.0" cy="80.4" r="0.8" fill="#d0d7f8"/>
<circle cx="269.6" cy="142.8" r="0.8" fill="#d0d7f8"/>
<circle cx="323.7" cy="244.7" r="0.8" fill="#d0d7f8"/>
<circle cx="179.4" cy="269.7" r="0.8" fill="#d0d7f8"/>
<circle cx="236.1" cy="73.5" r="0.8" fill="#d0d7f8"/>
<circle cx="159.5" cy="49.5" r="0.8" fill="#d0d7f8"/>
<circle cx="106.9" cy="162.5" r="0.8" fill="#d0d7f8"/>
<circle cx="244.1" cy="275.9" r="0.8" fill="#d0d7f8"/>
<circle cx="176.2" cy="259.0" r="0.8" fill="#d0d7f8"/>
<circle cx="267.7" cy="282.7" r="0.8" fill="#d0d7f8"/>
<circle cx="329.7" cy="229.6" r="0.8" fill="#d0d7f8"/>
<circle cx="167.9" cy="236.3" r="0.8" fill="#d0d7f8"/>
<circle cx="255.3" cy="102.3" r="0.8" fill="#d0d7f8"/>
<circle cx="318.9" cy="220.8" r="0.8" fill="#d0d7f8"/>
<circle cx="268.8" cy="154.0" r="0.8" fill="#d0d7f8"/>
<circle cx="243.2" cy="73.1" r="0.8" fill="#d0d7f8"/>
<circle cx="139.8" cy="213.6" r="0.8" fill="#d0d7f8"/>
<circle cx="292.6" cy="203.7" r="0.8" fill="#d0d7f8"/>
<circle cx="101.1" cy="126.9" r="0.8" fill="#d0d7f8"/>
<circle cx="108.1" cy="193.4" r="0.8" fill="#d0d7f8"/>
<circle cx="104.7" cy="132.3" r="0.8" fill="#d0d7f8"/>
<circle cx="161.2" cy="219.8" r="0.8" fill="#d0d7f8"/>
<circle cx="273.6" cy="190.0" r="0.8" fill="#d0d7f8"/>
<circle cx="118.8" cy="90.5" r="0.8" fill="#d0d7f8"/>
<circle cx="174.7" cy="263.2" r="0.8" fill="#d0d7f8"/>
<circle cx="184.6" cy="37.6" r="0.8" fill="#d0d7f8"/>
<circle cx="102.8" cy="156.3" r="0.8" fill="#d0d7f8"/>
<circle cx="106.6" cy="163.1" r="0.8" fill="#d0d7f8"/>
<circle cx="178.9" cy="265.6" r="0.8" fill="#d0d7f8"/>
<circle cx="263.1" cy="141.5" r="0.8" fill="#d0d7f8"/>
<circle cx="302.1" cy="202.7" r="0.8" fill="#d0d7f8"/>
<circle cx="214.8" cy="283.2" r="0.8" fill="#d0d7f8"/>
<circle cx="103.5" cy="116.3" r="0.8" fill="#d0d7f8"/>
<circle cx="279.1" cy="176.8" r="0.8" fill="#d0d7f8"/>
<circle cx="235.5" cy="56.6" r="0.8" fill="#d0d7f8"/>
<circle cx="272.7" cy="173.0" r="0.8" fill="#d0d7f8"/>
<circle cx="182.3" cy="281.6" r="0.8" fill="#d0d7f8"/>
<circle cx="241.2" cy="79.2" r="0.8" fill="#d0d7f8"/>
<circle cx="269.2" cy="153.5" r="0.8" fill="#d0d7f8"/>
<circle cx="312.4" cy="207.1" r="0.8" fill="#d0d7f8"/>
<circle cx="327.4" cy="234.4" r="0.8" fill="#d0d7f8"/>
<circle cx="321.1" cy="243.1" r="0.8" fill="#d0d7f8"/>
<circle cx="116.6" cy="83.4" r="0.8" fill="#d0d7f8"/>
<circle cx="285.0" cy="198.7" r="0.8" fill="#d0d7f8"/>
<circle cx="322.3" cy="242.6" r="0.8" fill="#d0d7f8"/>
<circle cx="208.6" cy="279.6" r="0.8" fill="#d0d7f8"/>
<circle cx="323.2" cy="250.1" r="0.8" fill="#d0d7f8"/>
<circle cx="219.3" cy="48.3" r="0.8" fill="#d0d7f8"/>
<circle cx="97.1" cy="147.6" r="0.8" fill="#d0d7f8"/>
<circle cx="170.9" cy="267.5" r="0.8" fill="#d0d7f8"/>
<circle cx="235.4" cy="282.3" r="0.8" fill="#d0d7f8"/>
<circle cx="276.9" cy="282.8" r="0.8" fill="#d0d7f8"/>
<circle cx="102.8" cy="131.5" r="0.8" fill="#d0d7f8"/>
<circle cx="115.5" cy="86.2" r="0.8" fill="#d0d7f8"/>
<circle cx="287.3" cy="193.2" r="0.8" fill="#d0d7f8"/>
<circle cx="306.2" cy="209.8" r="0.8" fill="#d0d7f8"/>
<circle cx="176.5" cy="269.2" r="0.8" fill="#d0d7f8"/>
<circle cx="184.0" cy="34.3" r="0.8" fill="#d0d7f8"/>
<circle cx="172.4" cy="240.5" r="0.8" fill="#d0d7f8"/>
<circle cx="179.3" cy="273.6" r="0.8" fill="#d0d7f8"/>
<circle cx="162.3" cy="38.2" r="0.8" fill="#d0d7f8"/>
<circle cx="295.6" cy="206.4" r="0.8" fill="#d0d7f8"/>
<circle cx="169.0" cy="238.9" r="0.8" fill="#d0d7f8"/>
<circle cx="274.9" cy="178.5" r="0.8" fill="#d0d7f8"/>
<circle cx="217.5" cy="39.1" r="0.8" fill="#d0d7f8"/>
<circle cx="262.3" cy="133.1" r="0.8" fill="#d0d7f8"/>
<circle cx="176.6" cy="268.7" r="0.8" fill="#d0d7f8"/>
<circle cx="265.2" cy="152.2" r="0.8" fill="#d0d7f8"/>
<circle cx="264.0" cy="126.8" r="0.8" fill="#d0d7f8"/>
<circle cx="292.1" cy="281.2" r="0.8" fill="#d0d7f8"/>
<circle cx="115.1" cy="177.9" r="0.8" fill="#d0d7f8"/>
<circle cx="325.1" cy="236.4" r="0.8" fill="#d0d7f8"/>
<circle cx="259.9" cy="120.0" r="0.8" fill="#d0d7f8"/>
<circle cx="133.1" cy="217.9" r="0.8" fill="#d0d7f8"/>
<circle cx="280.3" cy="277.9" r="0.8" fill="#d0d7f8"/>
<circle cx="174.1" cy="239.4" r="0.8" fill="#d0d7f8"/>
<circle cx="255.7" cy="95.9" r="0.8" fill="#d0d7f8"/>
<circle cx="114.4" cy="195.9" r="0.8" fill="#d0d7f8"/>
<circle cx="186.0" cy="282.5" r="0.8" fill="#d0d7f8"/>
<circle cx="283.7" cy="191.3" r="0.8" fill="#d0d7f8"/>
<circle cx="124.4" cy="211.5" r="0.8" fill="#d0d7f8"/>
<circle cx="227.4" cy="280.4" r="0.8" fill="#d0d7f8"/>
<circle cx="167.9" cy="247.5" r="0.8" fill="#d0d7f8"/>
<circle cx="221.5" cy="47.6" r="0.8" fill="#d0d7f8"/>
<circle cx="261.1" cy="112.8" r="0.8" fill="#d0d7f8"/>
<circle cx="233.1" cy="60.7" r="0.8" fill="#d0d7f8"/>
<circle cx="261.3" cy="110.0" r="0.8" fill="#d0d7f8"/>
<circle cx="322.9" cy="240.0" r="0.8" fill="#d0d7f8"/>
<circle cx="209.2" cy="36.7" r="0.8" fill="#d0d7f8"/>
<circle cx="321.1" cy="224.6" r="0.8" fill="#d0d7f8"/>
<circle cx="107.7" cy="117.8" r="0.8" fill="#d0d7f8"/>
<circle cx="111.3" cy="183.2" r="0.8" fill="#d0d7f8"/>
<circle cx="100.8" cy="123.9" r="0.8" fill="#d0d7f8"/>
<circle cx="233.8" cy="61.8" r="0.8" fill="#d0d7f8"/>
<circle cx="242.1" cy="68.0" r="0.8" fill="#d0d7f8"/>
<circle cx="313.2" cy="255.8" r="0.8" fill="#d0d7f8"/>
<circle cx="243.1" cy="64.5" r="0.8" fill="#d0d7f8"/>
<circle cx="263.3" cy="143.9" r="0.8" fill="#d0d7f8"/>
<circle cx="301.1" cy="205.5" r="0.8" fill="#d0d7f8"/>
<circle cx="267.2" cy="283.1" r="0.8" fill="#d0d7f8"/>
<circle cx="247.4" cy="72.3" r="0.8" fill="#d0d7f8"/>
<circle cx="285.8" cy="282.2" r="0.8" fill="#d0d7f8"/>
<circle cx="109.0" cy="115.2" r="0.8" fill="#d0d7f8"/>
<circle cx="237.9" cy="279.7" r="0.8" fill="#d0d7f8"/>
<circle cx="107.2" cy="119.2" r="0.8" fill="#d0d7f8"/>
<circle cx="252.2" cy="87.4" r="0.8" fill="#d0d7f8"/>
<circle cx="168.6" cy="39.3" r="0.8" fill="#d0d7f8"/>
<circle cx="292.3" cy="280.7" r="0.8" fill="#d0d7f8"/>
<circle cx="315.9" cy="220.3" r="0.8" fill="#d0d7f8"/>
<circle cx="202.3" cy="40.5" r="0.8" fill="#d0d7f8"/>
<circle cx="321.9" cy="237.5" r="0.8" fill="#d0d7f8"/>
<circle cx="152.6" cy="45.4" r="0.8" fill="#d0d7f8"/>
<circle cx="222.7" cy="43.2" r="0.8" fill="#d0d7f8"/>
<circle cx="163.2" cy="220.5" r="0.8" fill="#d0d7f8"/>
<circle cx="231.4" cy="283.7" r="0.8" fill="#d0d7f8"/>
<circle cx="233.4" cy="68.7" r="0.8" fill="#d0d7f8"/>
<circle cx="319.8" cy="245.0" r="0.8" fill="#d0d7f8"/>
<circle cx="167.3" cy="227.3" r="0.8" fill="#d0d7f8"/>
<circle cx="263.1" cy="282.7" r="0.8" fill="#d0d7f8"/>
<circle cx="132.4" cy="216.3" r="0.8" fill="#d0d7f8"/>
<circle cx="263.4" cy="112.3" r="0.8" fill="#d0d7f8"/>
<circle cx="119.9" cy="206.6" r="0.8" fill="#d0d7f8"/>
<circle cx="248.2" cy="278.3" r="0.8" fill="#d0d7f8"/>
<circle cx="264.3" cy="140.4" r="0.8" fill="#d0d7f8"/>
<circle cx="160.4" cy="224.9" r="0.8" fill="#d0d7f8"/>
<circle cx="300.8" cy="266.5" r="0.8" fill="#d0d7f8"/>
<circle cx="323.5" cy="239.0" r="0.8" fill="#d0d7f8"/>
<circle cx="284.4" cy="190.1" r="0.8" fill="#d0d7f8"/>
<circle cx="244.0" cy="72.0" r="0.8" fill="#d0d7f8"/>
<circle cx="138.4" cy="215.9" r="0.8" fill="#d0d7f8"/>
<circle cx="169.2" cy="39.8" r="0.8" fill="#d0d7f8"/>
<circle cx="308.4" cy="251.9" r="0.8" fill="#d0d7f8"/>
<circle cx="318.8" cy="224.2" r="0.8" fill="#d0d7f8"/>
<circle cx="321.4" cy="258.5" r="0.8" fill="#d0d7f8"/>
<circle cx="320.6" cy="253.1" r="0.8" fill="#d0d7f8"/>
<circle cx="310.6" cy="266.0" r="0.8" fill="#d0d7f8"/>
<circle cx="307.3" cy="212.8" r="0.8" fill="#d0d7f8"/>
<circle cx="210.7" cy="278.2" r="0.8" fill="#d0d7f8"/>
<circle cx="267.9" cy="163.5" r="0.8" fill="#d0d7f8"/>
<circle cx="153.4" cy="53.6" r="0.8" fill="#d0d7f8"/>
<circle cx="262.9" cy="154.1" r="0.8" fill="#d0d7f8"/>
<circle cx="170.4" cy="251.9" r="0.8" fill="#d0d7f8"/>
<circle cx="260.1" cy="117.1" r="0.8" fill="#d0d7f8"/>
<circle cx="109.0" cy="202.1" r="0.8" fill="#d0d7f8"/>
<circle cx="139.2" cy="218.4" r="0.8" fill="#d0d7f8"/>
<circle cx="189.6" cy="281.3" r="0.8" fill="#d0d7f8"/>
<circle cx="323.6" cy="234.2" r="0.8" fill="#d0d7f8"/>
<circle cx="290.7" cy="277.0" r="0.8" fill="#d0d7f8"/>
<circle cx="156.0" cy="56.3" r="0.8" fill="#d0d7f8"/>
<circle cx="293.4" cy="269.8" r="0.8" fill="#d0d7f8"/>
<circle cx="227.7" cy="52.3" r="0.8" fill="#d0d7f8"/>
<circle cx="175.6" cy="265.3" r="0.8" fill="#d0d7f8"/>
<circle cx="299.5" cy="259.3" r="0.8" fill="#d0d7f8"/>
<circle cx="180.1" cy="279.5" r="0.8" fill="#d0d7f8"/>
<circle cx="112.8" cy="164.1" r="0.8" fill="#d0d7f8"/>
<line x1="147.0" y1="28" x2="147.0" y2="284.5" stroke="#000" stroke-opacity="0.05" stroke-width="1.3"/>
<line x1="220.0" y1="28" x2="220.0" y2="284.5" stroke="#000" stroke-opacity="0.05" stroke-width="1.3"/>
<line x1="293.0" y1="28" x2="293.0" y2="284.5" stroke="#000" stroke-opacity="0.05" stroke-width="1.3"/>
<line x1="74" y1="245.0" x2="366.5" y2="245.0" stroke="#000" stroke-opacity="0.05" stroke-width="1.3"/>
<line x1="74" y1="205.6" x2="366.5" y2="205.6" stroke="#000" stroke-opacity="0.05" stroke-width="1.3"/>
<line x1="74" y1="166.1" x2="366.5" y2="166.1" stroke="#000" stroke-opacity="0.05" stroke-width="1.3"/>
<line x1="74" y1="126.7" x2="366.5" y2="126.7" stroke="#000" stroke-opacity="0.05" stroke-width="1.3"/>
<line x1="74" y1="87.2" x2="366.5" y2="87.2" stroke="#000" stroke-opacity="0.05" stroke-width="1.3"/>
<line x1="74" y1="47.7" x2="366.5" y2="47.7" stroke="#000" stroke-opacity="0.05" stroke-width="1.3"/>
<line x1="147.0" y1="28" x2="147.0" y2="32" stroke="#bbb" stroke-width="1"/><line x1="147.0" y1="280.5" x2="147.0" y2="284.5" stroke="#bbb" stroke-width="1"/>
<line x1="220.0" y1="28" x2="220.0" y2="32" stroke="#bbb" stroke-width="1"/><line x1="220.0" y1="280.5" x2="220.0" y2="284.5" stroke="#bbb" stroke-width="1"/>
<line x1="293.0" y1="28" x2="293.0" y2="32" stroke="#bbb" stroke-width="1"/><line x1="293.0" y1="280.5" x2="293.0" y2="284.5" stroke="#bbb" stroke-width="1"/>
<line x1="74" y1="245.0" x2="78" y2="245.0" stroke="#bbb" stroke-width="1"/><line x1="362.5" y1="245.0" x2="366.5" y2="245.0" stroke="#bbb" stroke-width="1"/>
<line x1="74" y1="205.6" x2="78" y2="205.6" stroke="#bbb" stroke-width="1"/><line x1="362.5" y1="205.6" x2="366.5" y2="205.6" stroke="#bbb" stroke-width="1"/>
<line x1="74" y1="166.1" x2="78" y2="166.1" stroke="#bbb" stroke-width="1"/><line x1="362.5" y1="166.1" x2="366.5" y2="166.1" stroke="#bbb" stroke-width="1"/>
<line x1="74" y1="126.7" x2="78" y2="126.7" stroke="#bbb" stroke-width="1"/><line x1="362.5" y1="126.7" x2="366.5" y2="126.7" stroke="#bbb" stroke-width="1"/>
<line x1="74" y1="87.2" x2="78" y2="87.2" stroke="#bbb" stroke-width="1"/><line x1="362.5" y1="87.2" x2="366.5" y2="87.2" stroke="#bbb" stroke-width="1"/>
<line x1="74" y1="47.7" x2="78" y2="47.7" stroke="#bbb" stroke-width="1"/><line x1="362.5" y1="47.7" x2="366.5" y2="47.7" stroke="#bbb" stroke-width="1"/>
<ellipse cx="208.2" cy="80.4" rx="2.05" ry="1.3" fill="#f00000" stroke="#5a0000" stroke-width="0.7"/>
<ellipse cx="215.9" cy="81.2" rx="2.05" ry="1.3" fill="#f00000" stroke="#5a0000" stroke-width="0.7"/>
<ellipse cx="210.4" cy="91.6" rx="2.05" ry="1.3" fill="#f00000" stroke="#5a0000" stroke-width="0.7"/>
<ellipse cx="215.0" cy="92.4" rx="2.05" ry="1.3" fill="#f00000" stroke="#5a0000" stroke-width="0.7"/>
<ellipse cx="225.2" cy="93.4" rx="2.05" ry="1.3" fill="#f00000" stroke="#5a0000" stroke-width="0.7"/>
<ellipse cx="215.0" cy="96.0" rx="2.05" ry="1.3" fill="#f00000" stroke="#5a0000" stroke-width="0.7"/>
<ellipse cx="217.6" cy="98.1" rx="2.05" ry="1.3" fill="#f00000" stroke="#5a0000" stroke-width="0.7"/>
<ellipse cx="216.2" cy="101.0" rx="2.05" ry="1.3" fill="#f00000" stroke="#5a0000" stroke-width="0.7"/>
<ellipse cx="195.2" cy="101.0" rx="2.05" ry="1.3" fill="#f00000" stroke="#5a0000" stroke-width="0.7"/>
<ellipse cx="219.8" cy="104.6" rx="2.05" ry="1.3" fill="#f00000" stroke="#5a0000" stroke-width="0.7"/>
<ellipse cx="224.1" cy="102.5" rx="2.05" ry="1.3" fill="#f00000" stroke="#5a0000" stroke-width="0.7"/>
<ellipse cx="228.4" cy="101.0" rx="2.05" ry="1.3" fill="#f00000" stroke="#5a0000" stroke-width="0.7"/>
<ellipse cx="175.8" cy="108.7" rx="2.05" ry="1.3" fill="#f00000" stroke="#5a0000" stroke-width="0.7"/>
<ellipse cx="179.4" cy="109.7" rx="2.05" ry="1.3" fill="#f00000" stroke="#5a0000" stroke-width="0.7"/>
<ellipse cx="182.3" cy="114.0" rx="2.05" ry="1.3" fill="#f00000" stroke="#5a0000" stroke-width="0.7"/>
<ellipse cx="189.5" cy="113.3" rx="2.05" ry="1.3" fill="#f00000" stroke="#5a0000" stroke-width="0.7"/>
<ellipse cx="196.7" cy="109.7" rx="2.05" ry="1.3" fill="#f00000" stroke="#5a0000" stroke-width="0.7"/>
<ellipse cx="200.3" cy="110.4" rx="2.05" ry="1.3" fill="#f00000" stroke="#5a0000" stroke-width="0.7"/>
<ellipse cx="204.6" cy="111.1" rx="2.05" ry="1.3" fill="#f00000" stroke="#5a0000" stroke-width="0.7"/>
<ellipse cx="210.4" cy="107.5" rx="2.05" ry="1.3" fill="#f00000" stroke="#5a0000" stroke-width="0.7"/>
<ellipse cx="213.3" cy="109.0" rx="2.05" ry="1.3" fill="#f00000" stroke="#5a0000" stroke-width="0.7"/>
<ellipse cx="216.2" cy="109.0" rx="2.05" ry="1.3" fill="#f00000" stroke="#5a0000" stroke-width="0.7"/>
<ellipse cx="211.1" cy="111.1" rx="2.05" ry="1.3" fill="#f00000" stroke="#5a0000" stroke-width="0.7"/>
<ellipse cx="211.8" cy="114.0" rx="2.05" ry="1.3" fill="#f00000" stroke="#5a0000" stroke-width="0.7"/>
<ellipse cx="216.2" cy="113.3" rx="2.05" ry="1.3" fill="#f00000" stroke="#5a0000" stroke-width="0.7"/>
<ellipse cx="217.6" cy="111.8" rx="2.05" ry="1.3" fill="#f00000" stroke="#5a0000" stroke-width="0.7"/>
<ellipse cx="216.9" cy="115.4" rx="2.05" ry="1.3" fill="#f00000" stroke="#5a0000" stroke-width="0.7"/>
<ellipse cx="203.2" cy="116.2" rx="2.05" ry="1.3" fill="#f00000" stroke="#5a0000" stroke-width="0.7"/>
<ellipse cx="192.4" cy="118.8" rx="2.05" ry="1.3" fill="#f00000" stroke="#5a0000" stroke-width="0.7"/>
<ellipse cx="187.3" cy="119.3" rx="2.05" ry="1.3" fill="#f00000" stroke="#5a0000" stroke-width="0.7"/>
<ellipse cx="208.2" cy="118.8" rx="2.05" ry="1.3" fill="#f00000" stroke="#5a0000" stroke-width="0.7"/>
<ellipse cx="233.3" cy="108.0" rx="2.05" ry="1.3" fill="#f00000" stroke="#5a0000" stroke-width="0.7"/>
<ellipse cx="234.4" cy="118.8" rx="2.05" ry="1.3" fill="#f00000" stroke="#5a0000" stroke-width="0.7"/>
<ellipse cx="240.9" cy="118.1" rx="2.05" ry="1.3" fill="#f00000" stroke="#5a0000" stroke-width="0.7"/>
<ellipse cx="246.7" cy="117.4" rx="2.05" ry="1.3" fill="#f00000" stroke="#5a0000" stroke-width="0.7"/>
<ellipse cx="238.0" cy="121.7" rx="2.05" ry="1.3" fill="#f00000" stroke="#5a0000" stroke-width="0.7"/>
<ellipse cx="242.4" cy="121.4" rx="2.05" ry="1.3" fill="#f00000" stroke="#5a0000" stroke-width="0.7"/>
<ellipse cx="244.5" cy="119.6" rx="2.05" ry="1.3" fill="#f00000" stroke="#5a0000" stroke-width="0.7"/>
<ellipse cx="239.5" cy="123.9" rx="2.05" ry="1.3" fill="#f00000" stroke="#5a0000" stroke-width="0.7"/>
<ellipse cx="248.6" cy="121.4" rx="2.05" ry="1.3" fill="#00f000" stroke="#005a00" stroke-width="0.7"/>
<ellipse cx="241.6" cy="124.9" rx="2.05" ry="1.3" fill="#00f000" stroke="#005a00" stroke-width="0.7"/>
<ellipse cx="246.7" cy="123.5" rx="2.05" ry="1.3" fill="#f00000" stroke="#5a0000" stroke-width="0.7"/>
<ellipse cx="238.5" cy="127.2" rx="2.05" ry="1.3" fill="#f00000" stroke="#5a0000" stroke-width="0.7"/>
<ellipse cx="239.9" cy="130.1" rx="2.05" ry="1.3" fill="#f00000" stroke="#5a0000" stroke-width="0.7"/>
<ellipse cx="238.8" cy="132.6" rx="2.05" ry="1.3" fill="#00f000" stroke="#005a00" stroke-width="0.7"/>
<ellipse cx="237.3" cy="134.7" rx="2.05" ry="1.3" fill="#00f000" stroke="#005a00" stroke-width="0.7"/>
<ellipse cx="223.6" cy="129.7" rx="2.05" ry="1.3" fill="#f00000" stroke="#5a0000" stroke-width="0.7"/>
<ellipse cx="228.4" cy="133.0" rx="2.05" ry="1.3" fill="#f00000" stroke="#5a0000" stroke-width="0.7"/>
<ellipse cx="233.7" cy="139.0" rx="2.05" ry="1.3" fill="#f00000" stroke="#5a0000" stroke-width="0.7"/>
<ellipse cx="166.0" cy="120.5" rx="2.05" ry="1.3" fill="#f00000" stroke="#5a0000" stroke-width="0.7"/>
<ellipse cx="187.4" cy="120.8" rx="2.05" ry="1.3" fill="#f00000" stroke="#5a0000" stroke-width="0.7"/>
<ellipse cx="200.4" cy="121.0" rx="2.05" ry="1.3" fill="#00f000" stroke="#005a00" stroke-width="0.7"/>
<ellipse cx="205.9" cy="122.5" rx="2.05" ry="1.3" fill="#00f000" stroke="#005a00" stroke-width="0.7"/>
<ellipse cx="211.2" cy="121.5" rx="2.05" ry="1.3" fill="#f00000" stroke="#5a0000" stroke-width="0.7"/>
<ellipse cx="215.5" cy="124.0" rx="2.05" ry="1.3" fill="#f00000" stroke="#5a0000" stroke-width="0.7"/>
<ellipse cx="191.0" cy="128.0" rx="2.05" ry="1.3" fill="#f00000" stroke="#5a0000" stroke-width="0.7"/>
<ellipse cx="200.4" cy="125.8" rx="2.05" ry="1.3" fill="#f00000" stroke="#5a0000" stroke-width="0.7"/>
<ellipse cx="201.1" cy="129.4" rx="2.05" ry="1.3" fill="#f00000" stroke="#5a0000" stroke-width="0.7"/>
<ellipse cx="208.3" cy="128.7" rx="2.05" ry="1.3" fill="#f00000" stroke="#5a0000" stroke-width="0.7"/>
<ellipse cx="213.7" cy="128.7" rx="2.05" ry="1.3" fill="#f00000" stroke="#5a0000" stroke-width="0.7"/>
<ellipse cx="170.8" cy="133.0" rx="2.05" ry="1.3" fill="#f00000" stroke="#5a0000" stroke-width="0.7"/>
<ellipse cx="187.4" cy="133.0" rx="2.05" ry="1.3" fill="#f00000" stroke="#5a0000" stroke-width="0.7"/>
<ellipse cx="192.0" cy="131.6" rx="2.05" ry="1.3" fill="#f00000" stroke="#5a0000" stroke-width="0.7"/>
<ellipse cx="203.3" cy="132.0" rx="2.05" ry="1.3" fill="#f00000" stroke="#5a0000" stroke-width="0.7"/>
<ellipse cx="202.5" cy="134.5" rx="2.05" ry="1.3" fill="#f00000" stroke="#5a0000" stroke-width="0.7"/>
<ellipse cx="206.2" cy="135.2" rx="2.05" ry="1.3" fill="#f00000" stroke="#5a0000" stroke-width="0.7"/>
<ellipse cx="212.6" cy="133.5" rx="2.05" ry="1.3" fill="#f00000" stroke="#5a0000" stroke-width="0.7"/>
<ellipse cx="210.5" cy="137.8" rx="2.05" ry="1.3" fill="#f00000" stroke="#5a0000" stroke-width="0.7"/>
<ellipse cx="208.3" cy="139.5" rx="2.05" ry="1.3" fill="#f00000" stroke="#5a0000" stroke-width="0.7"/>
<ellipse cx="204.7" cy="139.5" rx="2.05" ry="1.3" fill="#00f000" stroke="#005a00" stroke-width="0.7"/>
<ellipse cx="218.4" cy="140.7" rx="2.05" ry="1.3" fill="#0808f0" stroke="#00005a" stroke-width="0.7"/>
<ellipse cx="201.1" cy="142.7" rx="2.05" ry="1.3" fill="#00f000" stroke="#005a00" stroke-width="0.7"/>
<ellipse cx="197.8" cy="146.4" rx="2.05" ry="1.3" fill="#00f000" stroke="#005a00" stroke-width="0.7"/>
<ellipse cx="207.6" cy="146.4" rx="2.05" ry="1.3" fill="#f00000" stroke="#5a0000" stroke-width="0.7"/>
<ellipse cx="209.8" cy="148.2" rx="2.05" ry="1.3" fill="#f00000" stroke="#5a0000" stroke-width="0.7"/>
<ellipse cx="198.7" cy="151.0" rx="2.05" ry="1.3" fill="#f00000" stroke="#5a0000" stroke-width="0.7"/>
<ellipse cx="201.8" cy="150.3" rx="2.05" ry="1.3" fill="#f00000" stroke="#5a0000" stroke-width="0.7"/>
<ellipse cx="205.9" cy="151.3" rx="2.05" ry="1.3" fill="#f00000" stroke="#5a0000" stroke-width="0.7"/>
<ellipse cx="209.8" cy="151.0" rx="2.05" ry="1.3" fill="#f00000" stroke="#5a0000" stroke-width="0.7"/>
<ellipse cx="213.1" cy="149.9" rx="2.05" ry="1.3" fill="#f00000" stroke="#5a0000" stroke-width="0.7"/>
<ellipse cx="197.8" cy="155.1" rx="2.05" ry="1.3" fill="#f00000" stroke="#5a0000" stroke-width="0.7"/>
<ellipse cx="184.5" cy="157.5" rx="2.05" ry="1.3" fill="#00f000" stroke="#005a00" stroke-width="0.7"/>
<ellipse cx="189.6" cy="159.0" rx="2.05" ry="1.3" fill="#f00000" stroke="#5a0000" stroke-width="0.7"/>
<ellipse cx="215.5" cy="156.1" rx="2.05" ry="1.3" fill="#00f000" stroke="#005a00" stroke-width="0.7"/>
<ellipse cx="245.0" cy="149.2" rx="2.05" ry="1.3" fill="#0808f0" stroke="#00005a" stroke-width="0.7"/>
<ellipse cx="221.3" cy="159.6" rx="2.05" ry="1.3" fill="#00f000" stroke="#005a00" stroke-width="0.7"/>
<ellipse cx="237.1" cy="163.9" rx="2.05" ry="1.3" fill="#00f000" stroke="#005a00" stroke-width="0.7"/>
<ellipse cx="233.8" cy="165.3" rx="2.05" ry="1.3" fill="#00f000" stroke="#005a00" stroke-width="0.7"/>
<ellipse cx="216.9" cy="168.7" rx="2.05" ry="1.3" fill="#00f000" stroke="#005a00" stroke-width="0.7"/>
<ellipse cx="220.1" cy="170.4" rx="2.05" ry="1.3" fill="#00f000" stroke="#005a00" stroke-width="0.7"/>
<ellipse cx="230.2" cy="175.4" rx="2.05" ry="1.3" fill="#00f000" stroke="#005a00" stroke-width="0.7"/>
<ellipse cx="232.4" cy="175.0" rx="2.05" ry="1.3" fill="#00f000" stroke="#005a00" stroke-width="0.7"/>
<ellipse cx="238.8" cy="175.9" rx="2.05" ry="1.3" fill="#00f000" stroke="#005a00" stroke-width="0.7"/>
<ellipse cx="212.2" cy="177.6" rx="2.05" ry="1.3" fill="#00f000" stroke="#005a00" stroke-width="0.7"/>
<ellipse cx="215.8" cy="179.3" rx="2.05" ry="1.3" fill="#0808f0" stroke="#00005a" stroke-width="0.7"/>
<ellipse cx="236.7" cy="179.8" rx="2.05" ry="1.3" fill="#0808f0" stroke="#00005a" stroke-width="0.7"/>
<ellipse cx="193.9" cy="167.5" rx="2.05" ry="1.3" fill="#00f000" stroke="#005a00" stroke-width="0.7"/>
<ellipse cx="196.8" cy="169.8" rx="2.05" ry="1.3" fill="#00f000" stroke="#005a00" stroke-width="0.7"/>
<ellipse cx="199.0" cy="168.0" rx="2.05" ry="1.3" fill="#00f000" stroke="#005a00" stroke-width="0.7"/>
<ellipse cx="199.7" cy="171.3" rx="2.05" ry="1.3" fill="#00f000" stroke="#005a00" stroke-width="0.7"/>
<ellipse cx="201.8" cy="172.7" rx="2.05" ry="1.3" fill="#00f000" stroke="#005a00" stroke-width="0.7"/>
<ellipse cx="204.7" cy="173.7" rx="2.05" ry="1.3" fill="#00f000" stroke="#005a00" stroke-width="0.7"/>
<ellipse cx="186.0" cy="172.7" rx="2.05" ry="1.3" fill="#00f000" stroke="#005a00" stroke-width="0.7"/>
<ellipse cx="188.1" cy="173.7" rx="2.05" ry="1.3" fill="#00f000" stroke="#005a00" stroke-width="0.7"/>
<ellipse cx="199.7" cy="177.0" rx="2.05" ry="1.3" fill="#00f000" stroke="#005a00" stroke-width="0.7"/>
<ellipse cx="205.9" cy="177.3" rx="2.05" ry="1.3" fill="#f00000" stroke="#5a0000" stroke-width="0.7"/>
<ellipse cx="208.3" cy="178.5" rx="2.05" ry="1.3" fill="#00f000" stroke="#005a00" stroke-width="0.7"/>
<ellipse cx="219.1" cy="168.7" rx="2.05" ry="1.3" fill="#00f000" stroke="#005a00" stroke-width="0.7"/>
<ellipse cx="200.1" cy="184.5" rx="2.05" ry="1.3" fill="#00f000" stroke="#005a00" stroke-width="0.7"/>
<ellipse cx="182.4" cy="195.8" rx="2.05" ry="1.3" fill="#0808f0" stroke="#00005a" stroke-width="0.7"/>
<ellipse cx="201.1" cy="193.2" rx="2.05" ry="1.3" fill="#0808f0" stroke="#00005a" stroke-width="0.7"/>
<ellipse cx="210.2" cy="193.9" rx="2.05" ry="1.3" fill="#f00000" stroke="#5a0000" stroke-width="0.7"/>
<ellipse cx="212.6" cy="194.6" rx="2.05" ry="1.3" fill="#00f000" stroke="#005a00" stroke-width="0.7"/>
<ellipse cx="215.5" cy="197.8" rx="2.05" ry="1.3" fill="#0808f0" stroke="#00005a" stroke-width="0.7"/>
<ellipse cx="218.4" cy="196.1" rx="2.05" ry="1.3" fill="#0808f0" stroke="#00005a" stroke-width="0.7"/>
<ellipse cx="219.1" cy="188.1" rx="2.05" ry="1.3" fill="#0808f0" stroke="#00005a" stroke-width="0.7"/>
<ellipse cx="201.8" cy="205.4" rx="2.05" ry="1.3" fill="#00f000" stroke="#005a00" stroke-width="0.7"/>
<ellipse cx="196.8" cy="209.0" rx="2.05" ry="1.3" fill="#0808f0" stroke="#00005a" stroke-width="0.7"/>
<ellipse cx="217.7" cy="206.4" rx="2.05" ry="1.3" fill="#0808f0" stroke="#00005a" stroke-width="0.7"/>
<ellipse cx="216.3" cy="209.0" rx="2.05" ry="1.3" fill="#0808f0" stroke="#00005a" stroke-width="0.7"/>
<ellipse cx="245.0" cy="182.9" rx="2.05" ry="1.3" fill="#0808f0" stroke="#00005a" stroke-width="0.7"/>
<ellipse cx="231.2" cy="184.8" rx="2.05" ry="1.3" fill="#0808f0" stroke="#00005a" stroke-width="0.7"/>
<ellipse cx="233.8" cy="188.3" rx="2.05" ry="1.3" fill="#0808f0" stroke="#00005a" stroke-width="0.7"/>
<ellipse cx="247.9" cy="188.7" rx="2.05" ry="1.3" fill="#0808f0" stroke="#00005a" stroke-width="0.7"/>
<ellipse cx="219.3" cy="189.4" rx="2.05" ry="1.3" fill="#0808f0" stroke="#00005a" stroke-width="0.7"/>
<ellipse cx="237.4" cy="191.2" rx="2.05" ry="1.3" fill="#0808f0" stroke="#00005a" stroke-width="0.7"/>
<ellipse cx="245.3" cy="191.6" rx="2.05" ry="1.3" fill="#0808f0" stroke="#00005a" stroke-width="0.7"/>
<ellipse cx="252.8" cy="192.3" rx="2.05" ry="1.3" fill="#0808f0" stroke="#00005a" stroke-width="0.7"/>
<ellipse cx="231.6" cy="195.2" rx="2.05" ry="1.3" fill="#00f000" stroke="#005a00" stroke-width="0.7"/>
<ellipse cx="225.8" cy="198.1" rx="2.05" ry="1.3" fill="#0808f0" stroke="#00005a" stroke-width="0.7"/>
<ellipse cx="223.7" cy="200.2" rx="2.05" ry="1.3" fill="#0808f0" stroke="#00005a" stroke-width="0.7"/>
<ellipse cx="226.5" cy="201.7" rx="2.05" ry="1.3" fill="#0808f0" stroke="#00005a" stroke-width="0.7"/>
<ellipse cx="230.1" cy="200.2" rx="2.05" ry="1.3" fill="#0808f0" stroke="#00005a" stroke-width="0.7"/>
<ellipse cx="236.6" cy="202.1" rx="2.05" ry="1.3" fill="#0808f0" stroke="#00005a" stroke-width="0.7"/>
<ellipse cx="248.2" cy="201.3" rx="2.05" ry="1.3" fill="#0808f0" stroke="#00005a" stroke-width="0.7"/>
<ellipse cx="253.9" cy="204.6" rx="2.05" ry="1.3" fill="#0808f0" stroke="#00005a" stroke-width="0.7"/>
<ellipse cx="221.5" cy="205.3" rx="2.05" ry="1.3" fill="#00f000" stroke="#005a00" stroke-width="0.7"/>
<ellipse cx="224.4" cy="207.9" rx="2.05" ry="1.3" fill="#0808f0" stroke="#00005a" stroke-width="0.7"/>
<ellipse cx="229.4" cy="206.0" rx="2.05" ry="1.3" fill="#0808f0" stroke="#00005a" stroke-width="0.7"/>
<ellipse cx="241.7" cy="207.0" rx="2.05" ry="1.3" fill="#0808f0" stroke="#00005a" stroke-width="0.7"/>
<ellipse cx="231.6" cy="209.6" rx="2.05" ry="1.3" fill="#0808f0" stroke="#00005a" stroke-width="0.7"/>
<ellipse cx="243.8" cy="209.6" rx="2.05" ry="1.3" fill="#0808f0" stroke="#00005a" stroke-width="0.7"/>
<ellipse cx="248.9" cy="210.3" rx="2.05" ry="1.3" fill="#0808f0" stroke="#00005a" stroke-width="0.7"/>
<ellipse cx="261.2" cy="209.6" rx="2.05" ry="1.3" fill="#0808f0" stroke="#00005a" stroke-width="0.7"/>
<ellipse cx="258.3" cy="211.8" rx="2.05" ry="1.3" fill="#0808f0" stroke="#00005a" stroke-width="0.7"/>
<ellipse cx="235.9" cy="211.0" rx="2.05" ry="1.3" fill="#0808f0" stroke="#00005a" stroke-width="0.7"/>
<ellipse cx="228.7" cy="212.8" rx="2.05" ry="1.3" fill="#0808f0" stroke="#00005a" stroke-width="0.7"/>
<ellipse cx="232.3" cy="214.2" rx="2.05" ry="1.3" fill="#0808f0" stroke="#00005a" stroke-width="0.7"/>
<ellipse cx="244.6" cy="213.7" rx="2.05" ry="1.3" fill="#0808f0" stroke="#00005a" stroke-width="0.7"/>
<ellipse cx="259.0" cy="214.7" rx="2.05" ry="1.3" fill="#0808f0" stroke="#00005a" stroke-width="0.7"/>
<ellipse cx="228.0" cy="216.1" rx="2.05" ry="1.3" fill="#0808f0" stroke="#00005a" stroke-width="0.7"/>
<ellipse cx="234.5" cy="217.5" rx="2.05" ry="1.3" fill="#0808f0" stroke="#00005a" stroke-width="0.7"/>
<ellipse cx="272.0" cy="213.2" rx="2.05" ry="1.3" fill="#0808f0" stroke="#00005a" stroke-width="0.7"/>
<ellipse cx="264.0" cy="216.8" rx="2.05" ry="1.3" fill="#0808f0" stroke="#00005a" stroke-width="0.7"/>
<ellipse cx="256.8" cy="218.3" rx="2.05" ry="1.3" fill="#0808f0" stroke="#00005a" stroke-width="0.7"/>
<ellipse cx="272.7" cy="216.8" rx="2.05" ry="1.3" fill="#0808f0" stroke="#00005a" stroke-width="0.7"/>
<ellipse cx="260.4" cy="220.9" rx="2.05" ry="1.3" fill="#0808f0" stroke="#00005a" stroke-width="0.7"/>
<ellipse cx="266.9" cy="219.7" rx="2.05" ry="1.3" fill="#0808f0" stroke="#00005a" stroke-width="0.7"/>
<ellipse cx="245.3" cy="220.9" rx="2.05" ry="1.3" fill="#0808f0" stroke="#00005a" stroke-width="0.7"/>
<ellipse cx="251.0" cy="221.2" rx="2.05" ry="1.3" fill="#0808f0" stroke="#00005a" stroke-width="0.7"/>
<ellipse cx="240.2" cy="220.0" rx="2.05" ry="1.3" fill="#00f000" stroke="#005a00" stroke-width="0.7"/>
<ellipse cx="229.4" cy="221.2" rx="2.05" ry="1.3" fill="#0808f0" stroke="#00005a" stroke-width="0.7"/>
<ellipse cx="248.2" cy="223.3" rx="2.05" ry="1.3" fill="#0808f0" stroke="#00005a" stroke-width="0.7"/>
<ellipse cx="268.4" cy="222.6" rx="2.05" ry="1.3" fill="#0808f0" stroke="#00005a" stroke-width="0.7"/>
<ellipse cx="199.6" cy="209.4" rx="2.05" ry="1.3" fill="#0808f0" stroke="#00005a" stroke-width="0.7"/>
<ellipse cx="203.9" cy="209.4" rx="2.05" ry="1.3" fill="#00f000" stroke="#005a00" stroke-width="0.7"/>
<ellipse cx="203.9" cy="213.0" rx="2.05" ry="1.3" fill="#0808f0" stroke="#00005a" stroke-width="0.7"/>
<ellipse cx="193.1" cy="214.9" rx="2.05" ry="1.3" fill="#0808f0" stroke="#00005a" stroke-width="0.7"/>
<ellipse cx="206.1" cy="215.9" rx="2.05" ry="1.3" fill="#0808f0" stroke="#00005a" stroke-width="0.7"/>
<ellipse cx="211.1" cy="215.9" rx="2.05" ry="1.3" fill="#0808f0" stroke="#00005a" stroke-width="0.7"/>
<ellipse cx="201.7" cy="218.1" rx="2.05" ry="1.3" fill="#0808f0" stroke="#00005a" stroke-width="0.7"/>
<ellipse cx="205.3" cy="219.2" rx="2.05" ry="1.3" fill="#0808f0" stroke="#00005a" stroke-width="0.7"/>
<ellipse cx="210.4" cy="219.5" rx="2.05" ry="1.3" fill="#0808f0" stroke="#00005a" stroke-width="0.7"/>
<ellipse cx="203.9" cy="221.7" rx="2.05" ry="1.3" fill="#0808f0" stroke="#00005a" stroke-width="0.7"/>
<ellipse cx="195.7" cy="222.7" rx="2.05" ry="1.3" fill="#00f000" stroke="#005a00" stroke-width="0.7"/>
<ellipse cx="210.4" cy="222.1" rx="2.05" ry="1.3" fill="#0808f0" stroke="#00005a" stroke-width="0.7"/>
<ellipse cx="214.7" cy="222.4" rx="2.05" ry="1.3" fill="#0808f0" stroke="#00005a" stroke-width="0.7"/>
<ellipse cx="221.9" cy="223.1" rx="2.05" ry="1.3" fill="#0808f0" stroke="#00005a" stroke-width="0.7"/>
<ellipse cx="226.3" cy="222.4" rx="2.05" ry="1.3" fill="#0808f0" stroke="#00005a" stroke-width="0.7"/>
<ellipse cx="199.6" cy="226.0" rx="2.05" ry="1.3" fill="#00f000" stroke="#005a00" stroke-width="0.7"/>
<ellipse cx="203.9" cy="226.0" rx="2.05" ry="1.3" fill="#0808f0" stroke="#00005a" stroke-width="0.7"/>
<ellipse cx="206.1" cy="227.5" rx="2.05" ry="1.3" fill="#0808f0" stroke="#00005a" stroke-width="0.7"/>
<ellipse cx="205.3" cy="225.3" rx="2.05" ry="1.3" fill="#00f000" stroke="#005a00" stroke-width="0.7"/>
<ellipse cx="215.4" cy="226.0" rx="2.05" ry="1.3" fill="#0808f0" stroke="#00005a" stroke-width="0.7"/>
<ellipse cx="211.8" cy="229.3" rx="2.05" ry="1.3" fill="#0808f0" stroke="#00005a" stroke-width="0.7"/>
<ellipse cx="216.2" cy="228.9" rx="2.05" ry="1.3" fill="#0808f0" stroke="#00005a" stroke-width="0.7"/>
<ellipse cx="220.5" cy="229.6" rx="2.05" ry="1.3" fill="#0808f0" stroke="#00005a" stroke-width="0.7"/>
<ellipse cx="225.5" cy="230.3" rx="2.05" ry="1.3" fill="#0808f0" stroke="#00005a" stroke-width="0.7"/>
<ellipse cx="193.8" cy="232.2" rx="2.05" ry="1.3" fill="#0808f0" stroke="#00005a" stroke-width="0.7"/>
<ellipse cx="196.0" cy="234.7" rx="2.05" ry="1.3" fill="#0808f0" stroke="#00005a" stroke-width="0.7"/>
<ellipse cx="210.1" cy="233.2" rx="2.05" ry="1.3" fill="#00f000" stroke="#005a00" stroke-width="0.7"/>
<ellipse cx="219.0" cy="232.8" rx="2.05" ry="1.3" fill="#0808f0" stroke="#00005a" stroke-width="0.7"/>
<ellipse cx="221.9" cy="234.7" rx="2.05" ry="1.3" fill="#0808f0" stroke="#00005a" stroke-width="0.7"/>
<ellipse cx="224.1" cy="236.8" rx="2.05" ry="1.3" fill="#0808f0" stroke="#00005a" stroke-width="0.7"/>
<ellipse cx="215.9" cy="238.0" rx="2.05" ry="1.3" fill="#00f000" stroke="#005a00" stroke-width="0.7"/>
<ellipse cx="226.3" cy="241.2" rx="2.05" ry="1.3" fill="#0808f0" stroke="#00005a" stroke-width="0.7"/>
<ellipse cx="231.5" cy="217.2" rx="2.05" ry="1.3" fill="#0808f0" stroke="#00005a" stroke-width="0.7"/>
<ellipse cx="254.6" cy="217.9" rx="2.05" ry="1.3" fill="#0808f0" stroke="#00005a" stroke-width="0.7"/>
<ellipse cx="258.9" cy="218.6" rx="2.05" ry="1.3" fill="#0808f0" stroke="#00005a" stroke-width="0.7"/>
<ellipse cx="269.8" cy="217.9" rx="2.05" ry="1.3" fill="#0808f0" stroke="#00005a" stroke-width="0.7"/>
<ellipse cx="271.9" cy="224.4" rx="2.05" ry="1.3" fill="#0808f0" stroke="#00005a" stroke-width="0.7"/>
<ellipse cx="225.8" cy="225.1" rx="2.05" ry="1.3" fill="#0808f0" stroke="#00005a" stroke-width="0.7"/>
<ellipse cx="251.0" cy="225.8" rx="2.05" ry="1.3" fill="#0808f0" stroke="#00005a" stroke-width="0.7"/>
<ellipse cx="245.2" cy="228.7" rx="2.05" ry="1.3" fill="#0808f0" stroke="#00005a" stroke-width="0.7"/>
<ellipse cx="253.2" cy="229.4" rx="2.05" ry="1.3" fill="#0808f0" stroke="#00005a" stroke-width="0.7"/>
<ellipse cx="268.3" cy="229.4" rx="2.05" ry="1.3" fill="#0808f0" stroke="#00005a" stroke-width="0.7"/>
<ellipse cx="221.4" cy="230.9" rx="2.05" ry="1.3" fill="#0808f0" stroke="#00005a" stroke-width="0.7"/>
<ellipse cx="223.6" cy="233.8" rx="2.05" ry="1.3" fill="#0808f0" stroke="#00005a" stroke-width="0.7"/>
<ellipse cx="225.8" cy="236.6" rx="2.05" ry="1.3" fill="#0808f0" stroke="#00005a" stroke-width="0.7"/>
<ellipse cx="239.5" cy="235.2" rx="2.05" ry="1.3" fill="#0808f0" stroke="#00005a" stroke-width="0.7"/>
<ellipse cx="245.2" cy="238.1" rx="2.05" ry="1.3" fill="#0808f0" stroke="#00005a" stroke-width="0.7"/>
<ellipse cx="238.8" cy="238.1" rx="2.05" ry="1.3" fill="#0808f0" stroke="#00005a" stroke-width="0.7"/>
<ellipse cx="240.9" cy="241.0" rx="2.05" ry="1.3" fill="#0808f0" stroke="#00005a" stroke-width="0.7"/>
<ellipse cx="224.3" cy="250.3" rx="2.05" ry="1.3" fill="#0808f0" stroke="#00005a" stroke-width="0.7"/>
<ellipse cx="222.9" cy="261.2" rx="2.05" ry="1.3" fill="#0808f0" stroke="#00005a" stroke-width="0.7"/>
<ellipse cx="248.8" cy="233.0" rx="2.05" ry="1.3" fill="#0808f0" stroke="#00005a" stroke-width="0.7"/>
<ellipse cx="223.2" cy="230.8" rx="2.05" ry="1.3" fill="#0808f0" stroke="#00005a" stroke-width="0.7"/>
<ellipse cx="211.7" cy="246.6" rx="2.05" ry="1.3" fill="#0808f0" stroke="#00005a" stroke-width="0.7"/>
<ellipse cx="209.5" cy="248.8" rx="2.05" ry="1.3" fill="#0808f0" stroke="#00005a" stroke-width="0.7"/>
<ellipse cx="215.3" cy="248.1" rx="2.05" ry="1.3" fill="#0808f0" stroke="#00005a" stroke-width="0.7"/>
<ellipse cx="218.9" cy="248.1" rx="2.05" ry="1.3" fill="#0808f0" stroke="#00005a" stroke-width="0.7"/>
<ellipse cx="217.5" cy="253.1" rx="2.05" ry="1.3" fill="#0808f0" stroke="#00005a" stroke-width="0.7"/>
<ellipse cx="196.9" cy="100.0" rx="2.05" ry="1.3" fill="#f00000" stroke="#5a0000" stroke-width="0.7"/>
<ellipse cx="206.3" cy="112.0" rx="2.05" ry="1.3" fill="#f00000" stroke="#5a0000" stroke-width="0.7"/>
<ellipse cx="213.1" cy="98.0" rx="2.05" ry="1.3" fill="#f00000" stroke="#5a0000" stroke-width="0.7"/>
<ellipse cx="218.0" cy="101.2" rx="2.05" ry="1.3" fill="#f00000" stroke="#5a0000" stroke-width="0.7"/>
<ellipse cx="202.0" cy="110.9" rx="2.05" ry="1.3" fill="#f00000" stroke="#5a0000" stroke-width="0.7"/>
<ellipse cx="210.1" cy="128.2" rx="2.05" ry="1.3" fill="#f00000" stroke="#5a0000" stroke-width="0.7"/>
<ellipse cx="210.1" cy="214.4" rx="2.05" ry="1.3" fill="#0808f0" stroke="#00005a" stroke-width="0.7"/>
<ellipse cx="212.1" cy="221.6" rx="2.05" ry="1.3" fill="#0808f0" stroke="#00005a" stroke-width="0.7"/>
<ellipse cx="214.9" cy="224.1" rx="2.05" ry="1.3" fill="#0808f0" stroke="#00005a" stroke-width="0.7"/>
<ellipse cx="224.6" cy="222.0" rx="2.05" ry="1.3" fill="#0808f0" stroke="#00005a" stroke-width="0.7"/>
<ellipse cx="223.9" cy="224.4" rx="2.05" ry="1.3" fill="#0808f0" stroke="#00005a" stroke-width="0.7"/>
<ellipse cx="227.4" cy="219.9" rx="2.05" ry="1.3" fill="#0808f0" stroke="#00005a" stroke-width="0.7"/>
<ellipse cx="228.7" cy="217.8" rx="2.05" ry="1.3" fill="#0808f0" stroke="#00005a" stroke-width="0.7"/>
<ellipse cx="228.7" cy="210.9" rx="2.05" ry="1.3" fill="#0808f0" stroke="#00005a" stroke-width="0.7"/>
<ellipse cx="223.9" cy="206.1" rx="2.05" ry="1.3" fill="#0808f0" stroke="#00005a" stroke-width="0.7"/>
<ellipse cx="214.2" cy="208.5" rx="2.05" ry="1.3" fill="#0808f0" stroke="#00005a" stroke-width="0.7"/>
<ellipse cx="230.8" cy="208.1" rx="2.05" ry="1.3" fill="#0808f0" stroke="#00005a" stroke-width="0.7"/>
<ellipse cx="276.9" cy="208.3" rx="2.05" ry="1.3" fill="#0808f0" stroke="#00005a" stroke-width="0.7"/>
<ellipse cx="282.4" cy="209.4" rx="2.05" ry="1.3" fill="#0808f0" stroke="#00005a" stroke-width="0.7"/>
<ellipse cx="280.9" cy="211.1" rx="2.05" ry="1.3" fill="#0808f0" stroke="#00005a" stroke-width="0.7"/>
<ellipse cx="278.6" cy="212.3" rx="2.05" ry="1.3" fill="#0808f0" stroke="#00005a" stroke-width="0.7"/>
<ellipse cx="200.7" cy="210.8" rx="2.05" ry="1.3" fill="#0808f0" stroke="#00005a" stroke-width="0.7"/>
<ellipse cx="221.6" cy="207.2" rx="2.05" ry="1.3" fill="#0808f0" stroke="#00005a" stroke-width="0.7"/>
<ellipse cx="216.6" cy="223.1" rx="2.05" ry="1.3" fill="#0808f0" stroke="#00005a" stroke-width="0.7"/>
<ellipse cx="226.1" cy="206.5" rx="2.05" ry="1.3" fill="#0808f0" stroke="#00005a" stroke-width="0.7"/>
<ellipse cx="234.0" cy="214.1" rx="2.05" ry="1.3" fill="#0808f0" stroke="#00005a" stroke-width="0.7"/>
<ellipse cx="247.3" cy="219.5" rx="2.05" ry="1.3" fill="#0808f0" stroke="#00005a" stroke-width="0.7"/>
<ellipse cx="251.0" cy="219.5" rx="2.05" ry="1.3" fill="#0808f0" stroke="#00005a" stroke-width="0.7"/>
<rect x="74" y="28.2" width="292.8" height="256.3" fill="none" stroke="#d0d0d0" stroke-width="1.8"/>
<polygon points="185.80,93.80 188.34,98.20 193.42,98.20 190.88,102.60 193.42,107.00 188.34,107.00 185.80,111.40 183.26,107.00 178.18,107.00 180.72,102.60 178.18,98.20 183.26,98.20" fill="#f06aa8" />
<text x="185.8" y="106.9" font-size="12" text-anchor="middle" fill="#222">7</text>
<polygon points="204.70,90.60 207.24,95.00 212.32,95.00 209.78,99.40 212.32,103.80 207.24,103.80 204.70,108.20 202.16,103.80 197.08,103.80 199.62,99.40 197.08,95.00 202.16,95.00" fill="#f06aa8" />
<text x="204.7" y="103.7" font-size="12" text-anchor="middle" fill="#222">6</text>
<polygon points="204.60,152.80 207.14,157.20 212.22,157.20 209.68,161.60 212.22,166.00 207.14,166.00 204.60,170.40 202.06,166.00 196.98,166.00 199.52,161.60 196.98,157.20 202.06,157.20" fill="#7ee8a4" />
<text x="204.6" y="165.9" font-size="12" text-anchor="middle" fill="#222">1</text>
<polygon points="190.70,172.20 193.24,176.60 198.32,176.60 195.78,181.00 198.32,185.40 193.24,185.40 190.70,189.80 188.16,185.40 183.08,185.40 185.62,181.00 183.08,176.60 188.16,176.60" fill="#7ee8a4" />
<text x="190.7" y="185.3" font-size="12" text-anchor="middle" fill="#222">5</text>
<polygon points="219.40,207.20 221.94,211.60 227.02,211.60 224.48,216.00 227.02,220.40 221.94,220.40 219.40,224.80 216.86,220.40 211.78,220.40 214.32,216.00 211.78,211.60 216.86,211.60" fill="#1f9fcf" />
<text x="219.4" y="220.3" font-size="12" text-anchor="middle" fill="#222">3</text>
<polygon points="235.90,218.90 238.44,223.30 243.52,223.30 240.98,227.70 243.52,232.10 238.44,232.10 235.90,236.50 233.36,232.10 228.28,232.10 230.82,227.70 228.28,223.30 233.36,223.30" fill="#1f9fcf" />
<text x="235.9" y="232.0" font-size="12" text-anchor="middle" fill="#222">4</text>
<polygon points="255.70,229.70 258.24,234.10 263.32,234.10 260.78,238.50 263.32,242.90 258.24,242.90 255.70,247.30 253.16,242.90 248.08,242.90 250.62,238.50 248.08,234.10 253.16,234.10" fill="#1f9fcf" />
<text x="255.7" y="242.8" font-size="12" text-anchor="middle" fill="#222">8</text>
<polygon points="291.50,228.50 294.04,232.90 299.12,232.90 296.58,237.30 299.12,241.70 294.04,241.70 291.50,246.10 288.96,241.70 283.88,241.70 286.42,237.30 283.88,232.90 288.96,232.90" fill="#1f9fcf" />
<text x="291.5" y="241.6" font-size="12" text-anchor="middle" fill="#222">2</text>
<text transform="translate(65.0,291.8)" font-size="26.4" letter-spacing="0.7" text-anchor="end" fill="#111">25</text>
<text transform="translate(65.0,252.1)" font-size="26.4" letter-spacing="0.7" text-anchor="end" fill="#111">35</text>
<text transform="translate(65.0,212.4)" font-size="26.4" letter-spacing="0.7" text-anchor="end" fill="#111">45</text>
<text transform="translate(65.0,172.7)" font-size="26.4" letter-spacing="0.7" text-anchor="end" fill="#111">55</text>
<text transform="translate(65.0,132.9)" font-size="26.4" letter-spacing="0.7" text-anchor="end" fill="#111">65</text>
<text transform="translate(65.0,93.2)" font-size="26.4" letter-spacing="0.7" text-anchor="end" fill="#111">75</text>
<text transform="translate(65.0,53.5)" font-size="26.4" letter-spacing="0.7" text-anchor="end" fill="#111">85</text>
<text transform="translate(73.9,313.6)" font-size="26.4" letter-spacing="0.9" text-anchor="middle" fill="#111">10</text>
<text transform="translate(147.8,313.6)" font-size="26.4" letter-spacing="0.9" text-anchor="middle" fill="#111">15</text>
<text transform="translate(221.6,313.6)" font-size="26.4" letter-spacing="0.9" text-anchor="middle" fill="#111">20</text>
<text transform="translate(295.5,313.6)" font-size="26.4" letter-spacing="0.9" text-anchor="middle" fill="#111">25</text>
<text transform="translate(369.4,313.6)" font-size="26.4" letter-spacing="0.9" text-anchor="middle" fill="#111">30</text>
<text transform="translate(27.2,163.2) rotate(-90)" x="0" y="0" font-size="20.3" text-anchor="middle" fill="#111">Angle (°)</text>
<text x="228.7" y="342.6" font-size="20.5" text-anchor="middle" fill="#111">Distance (Å)</text>
<rect x="394.3" y="28.5" width="18.2" height="254" fill="url(#cb)"/>
<rect x="394.3" y="23.5" width="18.2" height="259" fill="none" stroke="#555" stroke-width="0.8"/>
<line x1="409.6" y1="231.1" x2="412.5" y2="231.1" stroke="#333" stroke-width="1"/>
<line x1="409.6" y1="179.4" x2="412.5" y2="179.4" stroke="#333" stroke-width="1"/>
<line x1="409.6" y1="127.7" x2="412.5" y2="127.7" stroke="#333" stroke-width="1"/>
<line x1="409.6" y1="76.0" x2="412.5" y2="76.0" stroke="#333" stroke-width="1"/>
<text transform="translate(420.4,291.9) scale(1.03,1)" font-size="26.4" fill="#111">0</text>
<text transform="translate(420.4,240.2) scale(1.03,1)" font-size="26.4" fill="#111">1</text>
<text transform="translate(420.4,188.5) scale(1.03,1)" font-size="26.4" fill="#111">2</text>
<text transform="translate(420.4,136.8) scale(1.03,1)" font-size="26.4" fill="#111">3</text>
<text transform="translate(420.4,85.1) scale(1.03,1)" font-size="26.4" fill="#111">4</text>
<text transform="translate(420.4,33.4) scale(1.03,1)" font-size="26.4" fill="#111">5</text>
<polygon points="586.20,20.70 589.66,26.70 596.59,26.70 593.13,32.70 596.59,38.70 589.66,38.70 586.20,44.70 582.74,38.70 575.81,38.70 579.27,32.70 575.81,26.70 582.74,26.70" fill="#1a9ad0" />
<text x="586.2" y="37.9" font-size="15" text-anchor="middle" fill="#000">4</text>
<polygon points="498.00,51.80 501.46,57.80 508.39,57.80 504.93,63.80 508.39,69.80 501.46,69.80 498.00,75.80 494.54,69.80 487.61,69.80 491.07,63.80 487.61,57.80 494.54,57.80" fill="#1a9ad0" />
<text x="498.0" y="69.0" font-size="15" text-anchor="middle" fill="#000">3</text>
<polygon points="674.00,51.60 677.46,57.60 684.39,57.60 680.93,63.60 684.39,69.60 677.46,69.60 674.00,75.60 670.54,69.60 663.61,69.60 667.07,63.60 663.61,57.60 670.54,57.60" fill="#1a9ad0" />
<text x="674.0" y="68.8" font-size="15" text-anchor="middle" fill="#000">8</text>
<polygon points="586.00,144.70 589.46,150.70 596.39,150.70 592.93,156.70 596.39,162.70 589.46,162.70 586.00,168.70 582.54,162.70 575.61,162.70 579.07,156.70 575.61,150.70 582.54,150.70" fill="#7ee8a0" />
<text x="586.0" y="161.9" font-size="15" text-anchor="middle" fill="#000">5</text>
<polygon points="525.20,253.00 528.66,259.00 535.59,259.00 532.13,265.00 535.59,271.00 528.66,271.00 525.20,277.00 521.74,271.00 514.81,271.00 518.27,265.00 514.81,259.00 521.74,259.00" fill="#f070a8" />
<text x="525.2" y="270.2" font-size="15" text-anchor="middle" fill="#000">6</text>
<polygon points="652.00,252.80 655.46,258.80 662.39,258.80 658.93,264.80 662.39,270.80 655.46,270.80 652.00,276.80 648.54,270.80 641.61,270.80 645.07,264.80 641.61,258.80 648.54,258.80" fill="#f070a8" />
<text x="652.0" y="270.0" font-size="15" text-anchor="middle" fill="#000">7</text>
<line x1="586.6" y1="58.7" x2="586.60" y2="120.40" stroke="#000" stroke-width="4.8"/><polygon points="586.60,131.00 581.20,117.40 586.60,120.40 592.00,117.40" fill="#000"/>
<line x1="512.6" y1="79.7" x2="558.05" y2="134.00" stroke="#000" stroke-width="2.5"/><polygon points="561.90,138.60 555.03,135.22 558.05,134.00 559.78,131.24" fill="#000"/>
<line x1="660" y1="81.9" x2="617.30" y2="131.94" stroke="#000" stroke-width="2.4"/><polygon points="613.40,136.50 615.59,129.16 617.30,131.94 620.30,133.19" fill="#000"/>
<line x1="576.5" y1="174.3" x2="543.19" y2="233.01" stroke="#000" stroke-width="6.5"/><polygon points="535.20,247.10 538.51,227.48 543.19,233.01 550.34,234.19" fill="#000"/>
<line x1="601.8" y1="171.8" x2="640.62" y2="238.09" stroke="#000" stroke-width="2.7"/><polygon points="643.90,243.70 637.35,238.84 640.62,238.09 642.87,235.61" fill="#000"/>
<text x="532.3" y="79.6" font-size="11.2" fill="#222">386.89 µs</text>
<text x="482.5" y="122.4" font-size="11.2" fill="#222">765.41 µs</text>
<text x="598.4" y="92.6" font-size="11.2" fill="#222">790.92 µs</text>
<text x="504.7" y="193.6" font-size="11.2" fill="#222">239.31 µs</text>
<text x="618.4" y="189.1" font-size="11.2" fill="#222">692.44 µs</text>
</svg></body></html>
